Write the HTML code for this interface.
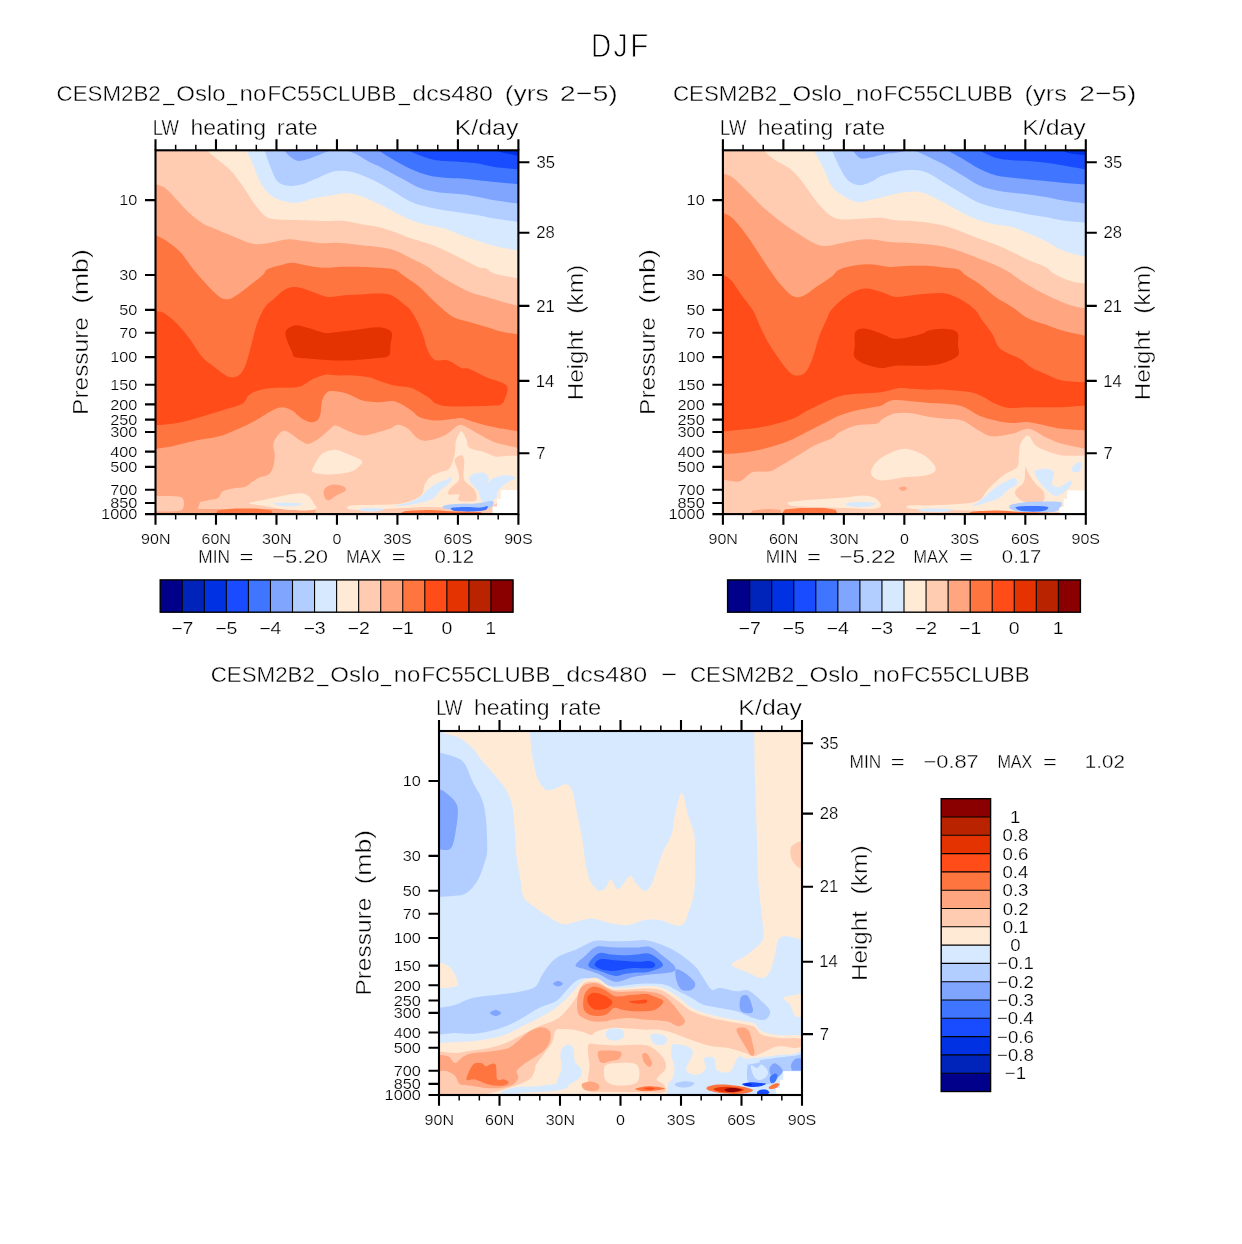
<!DOCTYPE html><html><head><meta charset="utf-8"><style>html,body{margin:0;padding:0;background:#fff;}svg{display:block}body{-webkit-font-smoothing:antialiased}text{font-family:'Liberation Sans', sans-serif;fill:#000}text.b{stroke:#fff;stroke-width:0.4px}text.x{stroke:#fff;stroke-width:0.9px}text.m{stroke:#fff;stroke-width:0.3px}text.s{stroke:#fff;stroke-width:0.22px}</style></head><body>
<svg width="1242" height="1244" viewBox="0 0 1242 1244">
<rect width="1242" height="1244" fill="#fff"/>
<clipPath id="c1"><rect x="155.5" y="150.3" width="362.9" height="363.8"/></clipPath>
<g clip-path="url(#c1)"><g transform="translate(155.5 150.3) scale(0.99972 0.99945)">
<rect x="-5" y="-5" width="373" height="374" fill="#0032E4"/>
<path d="M-6 -6L339 -6L339 0C340.4 0.4 343.7 1.6 347.7 2.5C351.7 3.4 360.4 5 363 5.5L369 5.5L369 370L-6 370L-6 -6Z" fill="#194CFF"/>
<path d="M-6 -6L252.7 -6L252.7 0C254.6 0.8 259.3 3.3 264 5C268.7 6.7 274 8.9 281 10C288 11.1 299.1 11.1 306 11.7C312.9 12.2 317.2 12.5 322.7 13.3C328.2 14.1 332.3 15.8 339 16.7C345.7 17.6 359 18.6 363 19L369 19L369 370L-6 370L-6 -6Z" fill="#4075FF"/>
<path d="M-6 -6L222.7 -6L222.7 0C225.4 1.7 233.4 6.8 239 10C244.6 13.2 250.4 16.5 256 19C261.6 21.5 267.2 23.6 272.7 25C278.2 26.4 283.4 26.9 289 27.5C294.6 28.1 300.4 27.9 306 28.3C311.6 28.7 317.2 29.4 322.7 30C328.2 30.6 332.3 31 339 31.7C345.7 32.4 359 33.6 363 34L369 34L369 370L-6 370L-6 -6Z" fill="#80A5FF"/>
<path d="M-6 -6L190 -6L190 0C191.7 0.6 196 1.6 200 3.5C204 5.5 209.8 9.5 214 11.7C218.2 13.9 222.2 15.2 225 16.6C227.8 18 227.2 17.9 231 20C234.8 22.1 242.2 26.1 247.7 29C253.2 31.9 258.4 35.4 264 37.5C269.6 39.6 274 40.6 281 41.7C288 42.8 299.1 43.2 306 44C312.9 44.8 317.2 45.7 322.7 46.7C328.2 47.7 332.3 48.9 339 50C345.7 51.1 359 52.8 363 53.3L369 53.3L369 370L-6 370L-6 -6Z" fill="#B2CDFF"/>
<path d="M127.4 -1L134 6C135.3 6.7 138.9 9.8 141.6 10.4C144.3 11 146.9 10.2 150 9.5C153.1 8.8 156.7 7.2 160 6C163.3 4.8 168.3 2.7 170 2L178 -1L127.4 -1Z" fill="#80A5FF"/>
<path d="M-6 -6L109 -6L109 0C110 2.8 112.8 11.4 115 16.6C117.2 21.8 119 27.9 122 31C125 34.1 128.7 35 132.7 35.5C136.7 36 141.6 35.4 146 34.3C150.4 33.2 154.1 31.1 159.3 29C164.5 26.9 171.8 22.9 177 21.5C182.2 20.1 185.9 20.2 190.3 20.6C194.7 21 197.8 21.6 203.6 23.7C209.4 25.8 219.1 30.4 225 33.4C230.9 36.4 233.8 38.7 239 41.7C244.2 44.8 250.4 49.2 256 51.7C261.6 54.2 267.2 55.3 272.7 56.7C278.2 58.1 283.4 59 289 60C294.6 61 300.4 61.7 306 62.5C311.6 63.3 317.2 64 322.7 65C328.2 66 332.3 67.2 339 68.3C345.7 69.4 359 71.1 363 71.7L369 71.7L369 370L-6 370L-6 -6Z" fill="#D6E9FF"/>
<path d="M-6 -6L91 -6L91 0C92 2.2 95 8.3 97 13C99 17.7 100.8 23.5 103 28C105.2 32.5 107.2 36.7 110 40C112.8 43.3 116.2 46 120 48C123.8 50 128.8 51.3 133 52C137.2 52.7 140.8 52.7 145 52C149.2 51.3 153.4 49 158 48C162.6 47 167.5 46.6 172.7 45.8C177.9 45 184 43.1 189 43C194 42.9 197.1 43.3 202.7 45C208.3 46.7 216.6 50.5 222.7 53.3C228.8 56.1 233.4 58.9 239 61.7C244.6 64.5 250.4 67.8 256 70C261.6 72.2 267.2 73.6 272.7 75C278.2 76.4 283.4 76.6 289 78.3C294.6 80 300.4 82.9 306 85C311.6 87.1 317.2 89 322.7 90.8C328.2 92.6 333.4 94.4 339 95.8C344.6 97.2 352 98.3 356 99C360 99.7 361.8 99.8 363 100L369 100L369 370L-6 370L-6 -6Z" fill="#FFEAD6"/>
<path d="M-6 -6L50.8 -6L50.8 0C52.8 1.7 59 6.7 63 10C67 13.3 71.7 16.7 75 20C78.3 23.3 80.2 26.2 83 30C85.8 33.8 89.2 38.8 92 43C94.8 47.2 97 51.2 100 55C103 58.8 106.7 63.7 110 66C113.3 68.3 113.3 68.3 120 69C126.7 69.7 141.2 69.7 150 70C158.8 70.3 166.2 70.7 172.7 70.8C179.2 70.9 183.4 70.3 189 70.8C194.6 71.3 200.4 73 206 74C211.6 75 217.2 75.4 222.7 76.7C228.2 78 233.4 79.8 239 81.7C244.6 83.6 250.4 86.4 256 88.3C261.6 90.2 267.2 91.3 272.7 93.3C278.2 95.2 283.4 97.5 289 100C294.6 102.5 300.4 105.5 306 108.3C311.6 111.1 318.5 115 322.7 116.7C326.9 118.4 328.3 117.2 331 118.3C333.7 119.4 333.7 121.6 339 123.3C344.3 125 359 127.5 363 128.3L369 128.3L369 370L-6 370L-6 -6Z" fill="#FFCCB2"/>
<path d="M-6 34L0 34C1.7 34.7 6.4 35.3 10 38C13.6 40.7 17.9 46 21.7 50C25.5 54 28.8 58.2 33 62C37.2 65.8 42.8 70.3 47 73C51.2 75.7 53.3 76 58 78C62.7 80 69.3 82.7 75 85C80.7 87.3 87.3 90.5 92 92C96.7 93.5 98.8 94 103 94C107.2 94 112 92.8 117 92C122 91.2 127.5 89.2 133 89C138.5 88.8 144.3 90.3 150 91C155.7 91.7 161.5 92.8 167 93C172.5 93.2 176.5 92.2 183 92.5C189.5 92.8 199.4 94.3 206 95C212.6 95.7 217.2 95.9 222.7 96.7C228.2 97.5 233.4 98.1 239 100C244.6 101.9 250.4 105.5 256 108.3C261.6 111.1 268.5 114.2 272.7 116.7C276.9 119.2 276.8 120.5 281 123.3C285.2 126.1 292.2 130.2 297.7 133.3C303.2 136.4 308.4 139.5 314 141.7C319.6 143.9 325.4 145 331 146.7C336.6 148.4 342.4 150.2 347.7 151.7C353 153.2 360.4 155.1 363 155.8L369 155.8L369 370L-6 370L-6 34Z" fill="#FFA580"/>
<path d="M-6 85L0 85C1.7 85.8 5.8 87.2 10 90C14.2 92.8 20.5 97.3 25 102C29.5 106.7 32.8 112.8 37 118C41.2 123.2 45.8 128.5 50 133C54.2 137.5 58.7 142.3 62 145C65.3 147.7 67.3 148.7 70 149C72.7 149.3 74.3 149 78 147C81.7 145 87.2 140.7 92 137C96.8 133.3 103.7 128 107 125C110.3 122 109 120.7 112 119C115 117.3 120.8 116.1 125 115C129.2 113.9 132.8 112.5 137 112.5C141.2 112.5 145 114.2 150 115C155 115.8 161.5 117.2 167 117.5C172.5 117.8 176.5 116.8 183 116.7C189.5 116.6 199.4 116.6 206 116.7C212.6 116.8 217.2 117.1 222.7 117.5C228.2 117.9 234.8 118 239 119.2C243.2 120.5 243.5 122.1 247.7 125C251.9 127.9 258.4 132 264 136.7C269.6 141.4 275.4 148.3 281 153.3C286.6 158.3 292.2 163.6 297.7 166.7C303.2 169.8 308.4 170 314 171.7C319.6 173.4 325.4 175 331 176.7C336.6 178.4 342.4 180.4 347.7 181.7C353 182.9 360.4 183.8 363 184.2L369 184.2L369 370L-6 370L-6 85Z" fill="#FF7540"/>
<path d="M-6 298.7L0 298.7C2.8 298.2 11.2 297.1 16.7 296C22.2 294.9 27.4 293.2 33 292C38.5 290.8 44.4 289.8 50 288.7C55.6 287.6 61.2 287 66.7 285.3C72.2 283.6 77.5 281.2 83 278.7C88.5 276.2 94.4 273.4 100 270.3C105.6 267.2 112.2 262.5 116.7 260.3C121.2 258.1 123.4 257 126.7 257C130 257 133.4 258.4 136.7 260.3C140 262.2 143.6 266.8 146.7 268.7C149.8 270.6 152.5 271.7 155 272C157.5 272.3 160 271.7 161.7 270.3C163.4 268.9 164.2 267 165 263.7C165.8 260.4 165.6 253.9 166.7 250.3C167.8 246.7 169.5 243.5 171.7 242C173.9 240.5 176.7 240.9 180 241.2C183.3 241.5 187.2 242.2 191.7 243.7C196.2 245.2 201.8 248.9 207 250.3C212.2 251.7 217.4 251.8 222.7 252C228 252.2 233.4 249.8 239 251.2C244.6 252.6 251.8 257.7 256 260.3C260.2 262.9 260.1 265.3 264.3 267C268.5 268.7 275.4 270 281 270.3C286.6 270.6 293.5 269.1 297.7 268.7C301.9 268.3 303.3 267.5 306 267.8C308.7 268.1 309.8 269.1 314 270.3C318.2 271.6 325.4 273.9 331 275.3C336.6 276.7 342.4 277.7 347.7 278.7C353 279.7 360.4 280.8 363 281.2L369 281.2L369 370L-6 370L-6 298.7Z" fill="#FFA580"/>
<path d="M42 359L44.7 352.6C45.9 352.2 49 351.1 52 350.3C55 349.5 60.1 349.5 62.6 348C65.1 346.5 64.5 343 67 341.4C69.5 339.8 73.8 339.1 77.5 338.4C81.2 337.7 86.2 338.1 89.4 337C92.6 335.9 94.3 333.3 96.8 331.7C99.3 330.1 101.6 328.4 104.3 327.2C107 326 111 326 113.2 324.3C115.4 322.6 116.7 320 117.7 316.8C118.7 313.6 119.2 308.5 119.2 304.9C119.2 301.3 117.6 298 117.7 295.3C117.8 292.6 118.5 291.1 120 288.7C121.5 286.3 124.5 282.3 126.7 281.2C128.9 280.1 129.9 280.5 133 282C136.1 283.5 141.7 288.4 145 290.3C148.3 292.2 150 294 153 293.7C156 293.4 159.7 290.9 163 288.7C166.3 286.5 170.2 282.5 173 280.3C175.8 278.1 176.9 275.3 180 275.3C183.1 275.3 187.2 278.6 191.7 280.3C196.2 282 201.8 285 207 285.3C212.2 285.6 218.1 283.1 222.7 282C227.2 280.9 231 279.9 234.3 278.7C237.6 277.4 239.6 274.5 242.7 274.5C245.8 274.5 249.4 276.3 252.7 278.7C256 281.1 259.4 286.8 262.7 288.7C266 290.6 268.3 290.9 272.7 290.3C277.1 289.7 284 287.8 289 285.3C294 282.8 299.3 276.8 302.7 275.3C306.1 273.8 306 274.8 309.3 276.2C312.6 277.6 317.8 281.1 322.7 283.7C327.6 286.3 332.3 289.6 339 292C345.7 294.4 359 296.8 363 297.8L369 297.8L369 370L160 370L160 359L42 359Z" fill="#FFCCB2"/>
<path d="M-6 346L15 346C16.8 346.2 23.8 346.3 26 347.5C28.2 348.7 28.5 350.9 28.5 353C28.5 355.1 28.2 358.6 26 360C23.8 361.4 16.8 361.2 15 361.5L-6 361.5L-6 346Z" fill="#FFCCB2"/>
<path d="M-6 161L0 161C1.3 161.2 4.7 160.7 8 162.5C11.3 164.3 15.8 167.9 20 172C24.2 176.1 28.5 181.2 33 187C37.5 192.8 43 202.3 47 207C51 211.7 52.9 212 56.7 215C60.5 218 66.5 223 70 225C73.5 227 75.5 227.2 78 227C80.5 226.8 83 225.7 85 223.7C87 221.7 88.6 218.3 90 215C91.4 211.7 92.3 207.9 93.5 203.7C94.7 199.5 95.8 194.8 97 190C98.2 185.2 99.5 179.5 101 175C102.5 170.5 104.3 166.3 106 163C107.7 159.7 109 157.3 111 155C113 152.7 114.8 151.7 118 149C121.2 146.3 126 141 130 139C134 137 137.3 136.5 142 137C146.7 137.5 152.9 140.4 158 142C163.1 143.6 167.5 146.2 172.7 146.7C177.9 147.2 183.4 145.4 189 145C194.6 144.6 200.4 144.5 206 144.2C211.6 143.9 217.7 143.2 222.7 143.3C227.7 143.4 231.8 143.3 236 145C240.2 146.7 244.4 150.6 247.7 153.3C251 156 253.5 157.7 256 161C258.5 164.3 260.7 168.8 262.7 173C264.7 177.2 266.5 181.8 268 186C269.5 190.2 269.7 194.1 271.5 198C273.3 201.9 275.5 207.4 279 209.5C282.5 211.6 288.2 208.9 292.7 210.3C297.2 211.7 302.4 216.4 306 217.8C309.6 219.2 309.8 217.2 314 218.7C318.2 220.2 324.8 224.2 331 227C337.2 229.8 348 231.5 351 235.3C354 239.1 350 246.8 349 250C348 253.2 346.7 253.6 345 254.5C343.3 255.4 344.2 255 339 255.3C333.8 255.6 321.7 256.1 314 256.2C306.3 256.3 298.2 256.6 292.7 256.2C287.2 255.8 284.3 255.2 281 253.7C277.7 252.2 276.9 249.7 272.7 247C268.5 244.3 261.6 239.8 256 237.8C250.4 235.9 244.6 236.6 239 235.3C233.4 234.1 226.9 231.7 222.7 230.3C218.5 228.9 218.2 227.8 214 227C209.8 226.2 202.9 225.6 197.7 225.3C192.5 225 187.6 225.4 183 225.3C178.4 225.2 174.2 223.9 170 224.5C165.8 225.1 161.3 227.2 158 228.7C154.7 230.2 152.7 232.3 150 233.7C147.3 235.1 147.2 236.3 141.7 237C136.1 237.7 123.2 237.2 116.7 237.8C110.2 238.4 107 239.1 103 240.3C99 241.6 95.7 243.1 93 245.3C90.3 247.5 91.1 251.2 86.7 253.7C82.3 256.2 72.8 258.4 66.7 260.3C60.6 262.2 55.6 263.6 50 265.3C44.4 267 38.5 268.9 33 270.3C27.4 271.7 22.2 272.9 16.7 273.7C11.2 274.5 2.8 275 0 275.3L-6 275.3L-6 161Z" fill="#FF4C19"/>
<path d="M130 183C130.2 178.6 134.7 176.5 138 175.5C141.3 174.5 145.2 175.9 150 177C154.8 178.1 162.9 181 166.7 182C170.5 183 169 183 172.7 182.8C176.4 182.6 183.4 181.7 189 181C194.6 180.3 200.4 179.4 206 178.7C211.6 178 218.2 176.9 222.7 177C227.1 177.1 230.4 178.1 232.7 179.2C235 180.3 236.1 180.9 236.5 183.5C236.9 186.1 235.5 191.4 235 195C234.5 198.6 235.6 203.2 233.5 205.3C231.4 207.4 230.1 207 222.7 207.8C215.3 208.6 199.8 210.2 189 210.3C178.2 210.5 166.2 209.2 158 208.7C149.8 208.1 143.6 208.1 140 207C136.4 205.9 138.4 206 136.7 202C135 198 129.8 187.4 130 183Z" fill="#E43200"/>
<path d="M157.5 322C155.1 320.6 157 319.1 158.5 316C160 312.9 163.1 306.4 166.7 303.7C170.3 300.9 175.8 299.5 180 299.5C184.2 299.5 187.4 301.9 191.7 303.7C196 305.5 203.9 308.4 206 310.3C208.1 312.2 206.2 313.4 204.3 315.3C202.4 317.2 199.6 320.5 194.3 322C189 323.5 178.8 324.5 172.7 324.5C166.6 324.5 159.9 323.4 157.5 322Z" fill="#FFEAD6"/>
<path d="M169.3 338.7C170.8 336.9 174.6 334.9 177.7 334.5C180.8 334.1 185.6 335.2 187.7 336.2C189.8 337.2 191.3 338.8 190.2 340.3C189.1 341.8 183.9 343.6 181 345.3C178.1 347 174.8 350.3 172.7 350.3C170.6 350.3 169.1 347.2 168.5 345.3C167.9 343.4 167.8 340.5 169.3 338.7Z" fill="#FFA580"/>
<path d="M369 306L369 345L342 353C340 353.7 337 356.2 330 357C323 357.8 310 357.5 300 357.5C290 357.5 280 356.8 270 357C260 357.2 250.8 358 240 358.5C229.2 359 212.8 359.9 205 360C197.2 360.1 194.8 359.7 193 359C191.2 358.3 191.2 356.3 194 355.6C196.8 354.9 202.2 355.1 209.8 354.9C217.4 354.6 232.2 354.7 239.6 354.1C247 353.5 250 352.8 254.5 351.2C259 349.6 263.9 347.4 266.4 344.5C268.9 341.6 267.9 337 269.4 334C270.9 331 272.8 328.6 275.3 326.6C277.8 324.6 281.3 323.3 284.3 322.1C287.3 320.9 291 321.2 293.2 319.2C295.4 317.2 296.6 313.4 297.7 310.2C298.8 307 299.4 303 299.9 299.8C300.4 296.6 299.6 294 300.6 290.9C301.6 287.8 304.2 281.4 305.9 281.2C307.6 280.9 309.6 286.7 311 289.4C312.4 292.1 311 295.5 314 297.6C317 299.7 324.5 300.5 329 302C333.5 303.5 337.1 305.9 340.9 306.5C344.7 307.1 348.5 305.8 352 305.7C355.5 305.6 360.1 305.7 361.7 305.7L369 306Z" fill="#FFEAD6"/>
<path d="M305.9 305C304.3 304.9 299.8 307.1 299.2 309.5C298.6 311.9 301.3 315.8 302 319.2C302.7 322.6 304.8 326.4 303.6 329.6C302.4 332.8 296.4 336 294.7 338.5C293 341 291.7 343.5 293.2 344.5C294.7 345.5 301.9 343.5 303.6 344.5C305.3 345.5 300.9 349.4 303.6 350.4C306.3 351.4 317.4 352.1 320 350.4C322.6 348.7 320.8 343 319.3 340C317.8 337 312.9 334.8 311 332.6C309.1 330.4 308.5 330.3 308.1 326.6C307.7 322.9 309.2 313.8 308.8 310.2C308.4 306.6 307.5 305.1 305.9 305Z" fill="#FFCCB2"/>
<path d="M314 326.6C315 325 319 323.5 321.5 322.9C324 322.3 327 322 329 322.9C331 323.8 332.9 326.2 333.4 328.1C333.9 330 331.1 334 331.9 334C332.6 334 334.7 329.6 337.9 328.1C341.1 326.6 347.6 325.1 351.3 325.1C355 325.1 360.2 326.9 360.2 328.1C360.2 329.4 354.3 330.4 351.3 332.6C348.3 334.8 344 339 342.3 341.5C340.6 344 342.6 345.5 340.9 347.5C339.2 349.5 334.4 352.9 331.9 353.4C329.4 353.9 327.5 352.4 326 350.4C324.5 348.4 324.8 344.5 323 341.5C321.2 338.5 317 335.1 315.5 332.6C314 330.1 313 328.2 314 326.6Z" fill="#D6E9FF"/>
<path d="M272 340C274.3 338 277 335.7 280 334C283 332.3 287.3 331.2 290 330C292.7 328.8 295.3 326.5 296 327C296.7 327.5 295.8 330.8 294 333C292.2 335.2 287.7 337.5 285 340C282.3 342.5 280.8 346 278 348C275.2 350 272.7 350.8 268 352C263.3 353.2 254.7 354.9 250 355.5C245.3 356.1 239.2 356.1 240 355.5C240.8 354.9 250.7 353.6 255 352C259.3 350.4 263.2 348 266 346C268.8 344 269.7 342 272 340Z" fill="#D6E9FF"/>
<path d="M288 356C289.7 355.2 294.7 354.4 300 354C305.3 353.6 313.8 354 320 353.5C326.2 353 334.3 350.4 337 351C339.7 351.6 338 355.5 336 357C334 358.5 330.2 359.5 325 360C319.8 360.5 310.8 360.2 305 360C299.2 359.8 292.8 359.7 290 359C287.2 358.3 286.3 356.8 288 356Z" fill="#B2CDFF"/>
<path d="M296 358C297.7 357.3 305.2 357.1 310 357C314.8 356.9 321.3 357.7 325 357.5C328.7 357.3 331.2 355.6 332 356C332.8 356.4 332.3 359.1 330 360C327.7 360.9 323 361.3 318 361.5C313 361.7 303.7 361.6 300 361C296.3 360.4 294.3 358.7 296 358Z" fill="#4075FF"/>
<path d="M44 352.5C44.8 351.3 54 350.4 60 350C66 349.6 73.3 350.2 80 350C86.7 349.8 93.3 349.2 100 349C106.7 348.8 113.3 349.2 120 349C126.7 348.8 133.3 347.8 140 348C146.7 348.2 153.3 349.3 160 350C166.7 350.7 175 351.2 180 352C185 352.8 189.2 353.8 190 355C190.8 356.2 190 358.2 185 359C180 359.8 170.8 359.6 160 359.5C149.2 359.4 133.3 358.8 120 358.5C106.7 358.2 90.8 358.2 80 358C69.2 357.8 61 357.9 55 357C49 356.1 43.2 353.7 44 352.5Z" fill="#FFCCB2"/>
<path d="M93.8 353.3C92.7 352.3 100.8 351.5 105 350.5C109.2 349.5 112.9 348.5 119 347.3C125.1 346.1 136 343.7 141.5 343.3C147 342.9 149.3 343.6 152 345.1C154.7 346.7 156.7 350.2 157.9 352.6C159.1 355 163.4 358.1 159.4 359.3C155.4 360.5 141.9 360.5 134 360C126 359.5 118.4 357.4 111.7 356.3C105 355.2 94.9 354.3 93.8 353.3Z" fill="#FFEAD6"/>
<path d="M117.7 353C118.5 352.4 125.2 352.5 130 352.6C134.8 352.7 145 352.9 146.7 353.5C148.4 354.1 143.6 355.6 140 356C136.4 356.4 128.7 356.5 125 356C121.3 355.5 116.9 353.6 117.7 353Z" fill="#D6E9FF"/>
<path d="M60 365L62 360.5C65 360.2 73.7 358.8 80 358.5C86.3 358.2 94 358.2 100 358.5C106 358.8 113.3 360.2 116 360.5L118 365L60 365Z" fill="#FF7540"/>
<path d="M204 359C205.5 358.5 210.8 358 215 358C219.2 358 228.2 358.4 229 359C229.8 359.6 223.8 361.2 220 361.5C216.2 361.8 208.7 361.4 206 361C203.3 360.6 202.5 359.5 204 359Z" fill="#D6E9FF"/>
<path d="M240 365L250 361C254.2 360.8 266.7 359.9 275 360C283.3 360.1 291.7 361.2 300 361.5C308.3 361.8 320.8 361.9 325 362L330 365L240 365Z" fill="#FF7540"/>
<path d="M345.3 340L369 340L369 370L337.1 370L337.1 356.4L341.6 356.4L341.6 349L345.3 349L345.3 340Z" fill="#FFFFFF"/>
</g></g>
<clipPath id="c2"><rect x="722.9" y="150.3" width="362.9" height="363.8"/></clipPath>
<g clip-path="url(#c2)"><g transform="translate(722.9 150.3) scale(0.99972 0.99945)">
<rect x="-5" y="-5" width="373" height="374" fill="#0032E4"/>
<path d="M-6 -6L339.3 -6L339.3 0C340.7 0.5 343.8 2.5 347.7 3.3C351.6 4.1 360.4 4.7 363 5L369 5L369 370L-6 370L-6 -6Z" fill="#194CFF"/>
<path d="M-6 -6L256 -6L256 0C258.8 1.2 267.1 5.8 272.7 7.5C278.2 9.2 283.8 9.4 289.3 10C294.9 10.6 300.4 10.4 306 10.8C311.6 11.2 317.1 11.8 322.7 12.5C328.2 13.2 332.6 13.9 339.3 15C346 16.1 359.1 18.5 363 19.2L369 19.2L369 370L-6 370L-6 -6Z" fill="#4075FF"/>
<path d="M-6 -6L224.3 -6L224.3 0C226.8 1.4 234 5.2 239.3 8.3C244.6 11.4 250.4 15.5 256 18.3C261.6 21.1 267.1 23.5 272.7 25C278.2 26.5 283.8 26.8 289.3 27.5C294.9 28.2 300.4 28.6 306 29.2C311.6 29.8 317.1 30.2 322.7 30.8C328.2 31.4 332.6 31.9 339.3 32.5C346 33.1 359.1 33.9 363 34.2L369 34.2L369 370L-6 370L-6 -6Z" fill="#80A5FF"/>
<path d="M-6 -6L191 -6L191 0C193.5 1.1 200.7 4.2 206 6.7C211.3 9.2 217.1 11.9 222.7 15C228.2 18.1 233.8 21.7 239.3 25C244.9 28.3 250.4 32.5 256 35C261.6 37.5 267.1 38.8 272.7 40C278.2 41.2 283.8 41.8 289.3 42.5C294.9 43.2 300.4 43.5 306 44.2C311.6 44.9 317.1 45.7 322.7 46.7C328.2 47.7 332.6 48.9 339.3 50C346 51.1 359.1 52.8 363 53.3L369 53.3L369 370L-6 370L-6 -6Z" fill="#B2CDFF"/>
<path d="M128.3 -1L133 4C133.9 4.7 135.5 7.9 138.3 8.3C141.1 8.8 145.8 7.5 150 6.7C154.2 5.9 159.5 4.2 163.3 3.5C167.1 2.8 169.8 2.9 172.7 2.5C175.6 2.1 179.6 1.2 181 1L186 -1L128.3 -1Z" fill="#80A5FF"/>
<path d="M-6 -6L109 -6L109 0C110.3 2.8 114 11.7 116.7 16.7C119.4 21.7 121.7 26.9 125 30C128.3 33 132.5 34.9 136.7 35C140.9 35.1 146.4 32.3 150 30.8C153.6 29.3 154.5 27.3 158.3 25.8C162.1 24.3 168.1 22.7 172.7 21.7C177.3 20.7 181 19.7 186 19.7C191 19.7 196.6 19.4 202.7 21.7C208.8 24 216.6 29.7 222.7 33.3C228.8 36.9 233.8 40.1 239.3 43.3C244.9 46.5 250.4 50.1 256 52.5C261.6 54.9 267.1 56.1 272.7 57.5C278.2 58.9 283.8 59.7 289.3 60.8C294.9 61.9 300.4 63.2 306 64.2C311.6 65.2 317.1 65.7 322.7 66.7C328.2 67.7 332.6 69 339.3 70C346 71 359.1 72.1 363 72.5L369 72.5L369 370L-6 370L-6 -6Z" fill="#D6E9FF"/>
<path d="M-6 -6L90.8 -6L90.8 0C92.3 2.8 97.1 10.9 100 16.7C102.9 22.5 105.5 30.6 108.3 35C111.1 39.4 112.5 40.5 116.7 43.3C120.9 46.1 127.8 50.7 133.3 51.7C138.9 52.7 144.4 50.3 150 49.2C155.6 48.1 161.1 46.2 166.7 45C172.2 43.8 177.8 42.1 183.3 41.7C188.9 41.3 193.4 40.6 200 42.5C206.6 44.4 216.1 50 222.7 53.3C229.2 56.6 233.8 59.7 239.3 62.5C244.9 65.3 250.4 68 256 70C261.6 72 267.1 73.1 272.7 74.2C278.2 75.3 283.8 75.2 289.3 76.7C294.9 78.2 300.4 81 306 83.3C311.6 85.6 317.1 88 322.7 90.8C328.2 93.6 333.8 97.6 339.3 100C344.9 102.4 352.1 104 356 105C359.9 106 361.8 105.7 363 105.8L369 105.8L369 370L-6 370L-6 -6Z" fill="#FFEAD6"/>
<path d="M-6 -6L40.8 -6L40.8 0C42.3 1.4 45.7 5.2 50 8.3C54.3 11.4 62.2 15 66.7 18.3C71.2 21.6 73.4 24.4 76.7 28.3C80 32.2 83.4 37.2 86.7 41.7C90 46.2 93.1 51 96.7 55C100.3 59 104.4 63.4 108.3 65.8C112.2 68.2 114.4 68.8 120 69.2C125.6 69.6 135.3 68.6 141.7 68.3C148.1 68 153.1 67.2 158.3 67.5C163.5 67.8 167.5 69.5 172.7 70C177.9 70.5 183.8 70.4 189.3 70.8C194.9 71.2 200.4 71.7 206 72.5C211.6 73.3 217.1 74.3 222.7 75.8C228.2 77.3 233.8 79.6 239.3 81.7C244.9 83.8 250.4 86.2 256 88.3C261.6 90.4 267.1 92 272.7 94.2C278.2 96.4 283.8 99.1 289.3 101.7C294.9 104.3 300.4 107.5 306 110C311.6 112.5 318.5 114.5 322.7 116.7C326.9 118.9 326.8 120.9 331 123.3C335.2 125.7 342.4 129.1 347.7 130.8C353 132.5 360.4 132.9 363 133.3L369 133.3L369 370L-6 370L-6 -6Z" fill="#FFCCB2"/>
<path d="M-6 23.3L0 23.3C1.7 24 5.8 24.4 10 27.5C14.2 30.6 19.7 36.6 25 41.7C30.3 46.8 36.2 53.3 41.7 58.3C47.2 63.3 52.8 67.5 58.3 71.7C63.8 75.9 69.4 79.7 75 83.3C80.6 86.9 87 91.2 91.7 93.3C96.4 95.4 99.1 95.8 103.3 95.8C107.5 95.8 111.7 94.3 116.7 93.3C121.7 92.3 127.8 90.7 133.3 90C138.9 89.3 144.4 88.9 150 89.2C155.6 89.5 161.1 91.2 166.7 91.7C172.2 92.2 176.8 92.1 183.3 92.5C189.9 92.9 199.4 93.5 206 94.2C212.6 94.9 217.1 95.5 222.7 96.7C228.2 98 233.8 99.8 239.3 101.7C244.9 103.6 250.4 106.1 256 108.3C261.6 110.5 267.7 112.8 272.7 115C277.7 117.2 281.8 119.2 286 121.7C290.2 124.2 293 127 297.7 130C302.4 133.1 308.8 136.9 314.3 140C319.9 143.1 325.4 145.8 331 148.3C336.6 150.8 342.4 153.3 347.7 155C353 156.7 360.4 157.8 363 158.3L369 158.3L369 370L-6 370L-6 23.3Z" fill="#FFA580"/>
<path d="M-6 62.5L0 62.5C1.7 63.5 5.8 64.3 10 68.3C14.2 72.3 20.3 80.3 25 86.7C29.7 93.1 34.4 100.9 38.3 106.7C42.2 112.5 45 117 48.3 121.7C51.6 126.4 54.7 131 58.3 135C61.9 139 66.4 144 70 145.8C73.6 147.6 76.1 147.3 80 145.8C83.9 144.3 88.6 139.9 93.3 136.7C98 133.5 104.4 129.6 108.3 126.7C112.2 123.8 112.5 121.2 116.7 119.2C120.9 117.2 127.8 115.8 133.3 115C138.9 114.2 144.4 113.9 150 114.2C155.6 114.5 161.1 116.4 166.7 116.7C172.2 117 176.8 116 183.3 115.8C189.9 115.6 199.4 115.5 206 115.8C212.6 116.1 217.7 116.9 222.7 117.5C227.7 118.1 232.7 118 236 119.2C239.3 120.5 239.4 122.7 242.7 125C246 127.3 251 129.7 256 133.3C261 136.9 267.1 142.8 272.7 146.7C278.2 150.6 283.8 153.1 289.3 156.7C294.9 160.3 300.4 165.6 306 168.5C311.6 171.4 317.1 172.4 322.7 174.3C328.2 176.2 332.6 178.3 339.3 180.2C346 182.1 359.1 184.6 363 185.5L369 185.5L369 370L-6 370L-6 62.5Z" fill="#FF7540"/>
<path d="M-6 303.7L0 303.7C2.8 303.6 11.1 303.4 16.7 302.8C22.2 302.2 27.7 301.4 33.3 300.3C38.8 299.2 44.4 297.9 50 296.2C55.6 294.5 61.2 292.7 66.7 290.3C72.2 287.9 77.8 284.8 83.3 282C88.8 279.2 94.4 276.5 100 273.7C105.6 270.9 111.2 267.5 116.7 265.3C122.2 263.1 127.8 261.7 133.3 260.3C138.9 258.9 145.9 257.8 150 257C154.1 256.2 155.2 256.5 158 255.5C160.8 254.5 163.9 251.8 166.7 250.8C169.5 249.9 171.2 249.7 175 249.8C178.8 249.9 184.1 250.7 189.3 251.2C194.5 251.7 200.4 252.4 206 252.8C211.6 253.2 217.1 253.1 222.7 253.7C228.2 254.3 233.8 254.3 239.3 256.2C244.9 258.1 250.4 262.9 256 265.3C261.6 267.7 267.1 269.1 272.7 270.3C278.2 271.6 283.8 272.5 289.3 272.8C294.9 273.1 300.4 271.6 306 272C311.6 272.4 317.1 274.2 322.7 275.3C328.2 276.4 332.6 277.9 339.3 278.7C346 279.5 359.1 280 363 280.3L369 280.3L369 370L-6 370L-6 303.7Z" fill="#FFA580"/>
<path d="M-6 329.5L0 329.5C2.8 329.8 11.7 332.4 16.7 331.2C21.7 329.9 25 323.7 30 322C35 320.3 42 322.3 46.7 321.2C51.4 320.1 53.6 317.9 58.3 315.3C63 312.7 69.4 308.6 75 305.3C80.6 302 86.2 298.1 91.7 295.3C97.2 292.5 104.1 290.9 108.3 288.7C112.5 286.5 112.5 284.2 116.7 282C120.9 279.8 127.2 276.7 133.3 275.3C139.4 273.9 148.9 274.8 153.3 273.7C157.8 272.6 156.8 270.4 160 268.7C163.2 266.9 167.8 264.1 172.7 263.2C177.6 262.2 183.8 262.4 189.3 263C194.9 263.6 200.4 265.6 206 266.5C211.6 267.4 217.1 268.1 222.7 268.7C228.2 269.3 233.8 268.4 239.3 270.3C244.9 272.2 251 277.7 256 280.3C261 282.9 263.8 285.6 269.3 286.2C274.9 286.8 283.2 284.9 289.3 283.7C295.4 282.4 300.4 278.1 306 278.7C311.6 279.2 317.1 284.5 322.7 287C328.2 289.5 332.6 291.8 339.3 293.7C346 295.6 359.1 297.9 363 298.7L369 298.7L369 370L-6 370L-6 329.5Z" fill="#FFCCB2"/>
<path d="M-6 124.2L0 124.2C1.4 125.2 5 126.2 8.3 130C11.6 133.8 16.4 141.7 20 146.7C23.6 151.7 27.2 155.3 30 160C32.8 164.7 34.2 169.7 36.7 175C39.2 180.3 42 186.4 45 191.7C48 197 51.4 201.9 55 207C58.6 212.1 63.4 218.9 66.7 222C70 225.1 72.2 225.4 75 225.3C77.8 225.2 80.8 224.2 83.3 221.2C85.8 218.1 87.8 213 90 207C92.2 201 94.5 191.1 96.7 185C98.9 178.9 101.2 174.6 103.3 170.3C105.3 166 105.4 163.2 109 159C112.6 154.8 119.5 148.4 125 145C130.4 141.6 136.1 138.9 141.7 138.3C147.2 137.8 153.1 140.3 158.3 141.7C163.5 143.1 167.5 146.1 172.7 146.7C177.9 147.2 183.8 145.6 189.3 145C194.9 144.4 200.4 143.6 206 143.3C211.6 143 217.1 142.2 222.7 143.3C228.2 144.4 234.3 147.2 239.3 150C244.3 152.8 249.4 156.7 252.7 160C256 163.3 256.5 166.1 259.3 170C262.1 173.9 266.5 179 269.3 183.5C272.1 188 273.2 193.7 276 197C278.8 200.3 282.4 201.6 286 203.5C289.6 205.4 293.8 206.3 297.7 208.7C301.6 211.1 305.1 215.3 309.3 217.8C313.5 220.3 317.7 221.6 322.7 223.7C327.7 225.8 332.6 228.9 339.3 230.3C346 231.7 359.1 231.7 363 232L369 232L369 255.3L363 255.3C359.1 255.6 348.8 256.7 339.3 257C329.8 257.3 314.9 256.9 306 257C297.1 257.1 291.6 258.4 286 257.8C280.4 257.2 276.9 255.5 272.7 253.7C268.5 251.9 265.2 248.9 261 247C256.8 245.1 254.1 243.2 247.7 242C241.3 240.8 229.6 239.9 222.7 239.5C215.8 239.1 211.6 239.6 206 239.5C200.4 239.4 194.5 238.9 189.3 238.7C184.1 238.4 180.2 237.4 175 238C169.8 238.6 165.2 241.1 158.3 242C151.4 242.9 140.2 243 133.3 243.7C126.4 244.4 122.2 244.7 116.7 246.2C111.2 247.7 105.6 250.3 100 252.8C94.4 255.3 88.3 258.6 83.3 261.2C78.3 263.8 75.5 266.5 70 268.7C64.5 270.9 56.1 273 50 274.5C43.9 276 38.8 277 33.3 277.8C27.7 278.6 22.2 278.9 16.7 279.5C11.1 280.1 2.8 280.9 0 281.2L-6 281.2L-6 124.2Z" fill="#FF4C19"/>
<path d="M132.5 181.7C134.1 178.9 137.4 178 141.7 178.3C146 178.6 153.6 181.6 158.3 183.3C163 185 165.8 187.6 170 188.3C174.2 189 178.3 188.3 183.3 187.5C188.3 186.7 196.2 184.5 200 183.3C203.8 182.1 202.2 181.1 206 180.3C209.8 179.5 218 178.4 222.7 178.7C227.4 179 232.2 179.3 234.3 182C236.4 184.7 235 191.1 235.2 195C235.3 198.9 237.3 202.5 235.2 205.3C233.1 208.1 227.6 210.3 222.7 212C217.8 213.7 213.9 214.8 206 215.3C198.1 215.9 182.9 214.9 175 215.3C167.1 215.7 163.9 218.1 158.3 217.8C152.8 217.5 146.1 215.5 141.7 213.7C137.3 211.9 133.3 210.1 131.7 207C130.1 203.9 131.9 199.2 132 195C132.1 190.8 130.9 184.5 132.5 181.7Z" fill="#E43200"/>
<path d="M148.3 323.7C147.5 320.6 150.4 315.3 153.3 312C156.2 308.7 161.3 305.9 166 303.7C170.7 301.5 176.1 298.7 181.5 298.7C186.9 298.7 193.9 301.5 198.5 303.7C203.1 305.9 206.9 309.2 209.3 312C211.7 314.8 213.8 318.1 212.7 320.3C211.6 322.5 207.6 324.2 202.7 325.3C197.8 326.4 190.4 326.2 183 327C175.6 327.8 164.1 330.9 158.3 330.3C152.5 329.8 149.1 326.8 148.3 323.7Z" fill="#FFEAD6"/>
<path d="M176 338C176.2 337.2 179.7 336.4 181 336.5C182.3 336.6 184.2 337.8 184 338.5C183.8 339.2 181.3 341.1 180 341C178.7 340.9 175.8 338.8 176 338Z" fill="#FFA580"/>
<path d="M369 305.3L369 362L300 362C290 361.8 258.3 361 240 360.5C221.7 360 199 359.8 190 359C181 358.2 183.3 356.1 186 355.5C188.7 354.9 197.1 355.6 206 355.3C214.9 355 231 354.5 239.3 353.7C247.6 352.9 251.8 352.5 256 350.3C260.2 348.1 261.5 343.4 264.3 340.3C267.1 337.2 269.6 334.8 272.7 332C275.8 329.2 279.1 326.2 282.7 323.7C286.3 321.2 292.1 319.8 294.3 317C296.5 314.2 295.4 310.9 296 307C296.6 303.1 296.2 297.3 297.7 293.7C299.2 290.1 302.7 285 305.2 285.3C307.7 285.6 309.8 292.8 312.7 295.3C315.6 297.8 318.3 298.6 322.7 300.3C327.1 302 332.6 304.5 339.3 305.3C346 306.1 359.1 305.3 363 305.3L369 305.3Z" fill="#FFEAD6"/>
<path d="M302.7 317C303.5 315.6 304.3 320.9 306 323.7C307.7 326.5 310.2 330.6 312.7 333.7C315.2 336.8 319.9 338.9 321 342C322.1 345.1 322.4 350.3 319.3 352C316.2 353.7 306.9 352.8 302.7 352C298.5 351.2 296 348.9 294.3 347C292.6 345.1 291.6 342.8 292.7 340.3C293.8 337.8 299.3 335.9 301 332C302.7 328.1 301.9 318.4 302.7 317Z" fill="#FFCCB2"/>
<path d="M312.7 320.3C314.4 319.2 319.6 318.4 322.7 318.7C325.8 319 329.9 319.5 331 322C332.1 324.5 328.5 331.2 329.3 333.7C330.1 336.2 332.9 337.6 336 337C339.1 336.4 345.8 330.6 347.7 330.3C349.6 330 349.1 333.1 347.7 335.3C346.3 337.5 342.1 342 339.3 343.7C336.5 345.4 334.1 346.4 331 345.3C327.9 344.2 324.1 340.3 321 337C317.9 333.7 314.1 328.1 312.7 325.3C311.3 322.5 311 321.4 312.7 320.3Z" fill="#D6E9FF"/>
<path d="M349 318C349.7 316.3 353.3 312.7 355 312C356.7 311.3 358.7 312.5 359 314C359.3 315.5 358.3 319.7 357 321C355.7 322.3 352.3 322.5 351 322C349.7 321.5 348.3 319.7 349 318Z" fill="#D6E9FF"/>
<path d="M272 338C276 335 278.7 333.7 282 332C285.3 330.3 290 327.7 292 328C294 328.3 295.2 332 294 334C292.8 336 288 337.7 285 340C282 342.3 279.8 345.8 276 348C272.2 350.2 266.3 351.7 262 353C257.7 354.3 250.7 356.5 250 356C249.3 355.5 254.3 353 258 350C261.7 347 268 341 272 338Z" fill="#D6E9FF"/>
<path d="M287.7 355C289.7 353.9 294.6 353.1 300 352.5C305.4 351.9 313.7 351.6 320 351.5C326.3 351.4 334.9 350.9 337.7 352C340.5 353.1 338.3 356.3 337 358C335.7 359.7 336.2 361.3 330 362C323.8 362.7 307 362.5 300 362C293 361.5 290.1 360.2 288 359C285.9 357.8 285.7 356.1 287.7 355Z" fill="#B2CDFF"/>
<path d="M293 357C294.7 356.2 304.7 356 310 356C315.3 356 323.3 356.2 325 357C326.7 357.8 324.2 360.3 320 361C315.8 361.7 304.5 361.7 300 361C295.5 360.3 291.3 357.8 293 357Z" fill="#4075FF"/>
<path d="M65 352.5C66.7 351.6 74.2 351.1 80 350.5C85.8 349.9 93 349.5 100 349C107 348.5 115.3 348.1 122 347.5C128.7 346.9 135 345.4 140 345.5C145 345.6 149 346.4 152 348C155 349.6 158.3 353.2 158 355C157.7 356.8 156.3 358.5 150 359C143.7 359.5 130 358.3 120 358C110 357.7 98.3 357.3 90 357C81.7 356.7 74.2 356.8 70 356C65.8 355.2 63.3 353.4 65 352.5Z" fill="#FFEAD6"/>
<path d="M122.5 353.5C123.7 352.8 130 352.1 135 352C140 351.9 150.8 352.2 152.5 353C154.2 353.8 149.1 355.9 145 356.5C140.9 357.1 131.8 357 128 356.5C124.2 356 121.3 354.2 122.5 353.5Z" fill="#D6E9FF"/>
<path d="M58 365L62 359.5C65 359.2 73.7 358.2 80 358C86.3 357.8 94.5 357.7 100 358C105.5 358.3 110.8 359.7 113 360L115 365L58 365Z" fill="#FF7540"/>
<path d="M25 365L30 360.5C32.5 360.2 40.3 359.1 45 359C49.7 358.9 55.8 359.8 58 360L58 365L25 365Z" fill="#FFA580"/>
<path d="M196 359.5C197.7 359 204.3 358.5 210 358.5C215.7 358.5 228.3 358.9 230 359.5C231.7 360.1 225 361.7 220 362C215 362.3 204 361.9 200 361.5C196 361.1 194.3 360 196 359.5Z" fill="#D6E9FF"/>
<path d="M240 365L250 361.5C254.2 361.3 266.7 360.4 275 360.5C283.3 360.6 291.7 361.7 300 362C308.3 362.3 320.8 362.4 325 362.5L330 365L240 365Z" fill="#FF7540"/>
<path d="M344.3 340.3L369 340.3L369 370L336.8 370L336.8 357L341 357L341 348.7L344.3 348.7L344.3 340.3Z" fill="#FFFFFF"/>
</g></g>
<clipPath id="c3"><rect x="439" y="731" width="363" height="364"/></clipPath>
<g clip-path="url(#c3)"><g transform="translate(439 731) scale(1.00000 1.00000)">
<rect x="-5" y="-5" width="373" height="374" fill="#D6E9FF"/>
<path d="M1 -1L90.8 -1L90.8 0C91.2 4.2 92 17.2 93.3 25C94.5 32.8 96.5 41.5 98.3 46.7C100.1 51.9 102.3 53.9 104 56C105.7 58.1 106.2 59 108.3 59.2C110.4 59.5 113.6 58.5 116.7 57.5C119.8 56.5 123.9 52.9 126.7 53.3C129.5 53.7 131.4 55 133.3 60C135.2 65 136.6 75.2 138.3 83.3C140 91.3 141.9 100 143.3 108.3C144.7 116.6 145.6 126.9 146.7 133.3C147.8 139.8 148.9 143.7 150 147C151.1 150.3 151.6 151.1 153.3 153.3C155 155.5 157.8 159.4 160 160C162.2 160.6 164.7 158.6 166.7 156.7C168.7 154.8 169.7 148 171.8 148.3C173.9 148.6 176.1 158.9 179.3 158.3C182.5 157.8 187.9 145.8 191 145C194.1 144.2 195.2 150.8 197.7 153.3C200.2 155.8 203.5 160 206 160C208.5 160 210.8 156.9 212.7 153.3C214.6 149.7 215.8 143.9 217.7 138.3C219.6 132.8 221.8 125.8 224.3 120C226.8 114.2 230.8 109.4 232.7 103.3C234.6 97.2 234.6 89.8 236 83.3C237.4 76.8 239.6 67.4 241 64.2C242.4 61 242.9 60.7 244.3 64.2C245.7 67.7 247.5 78.5 249.3 85C251.1 91.5 254.1 96.6 255.2 103.3C256.3 110 255.9 117.2 256 125C256.1 132.8 256.3 143.3 256 150C255.7 156.7 255.4 160 254.3 165.3C253.2 170.6 251 177.3 249.3 182C247.6 186.7 246.5 191.3 244.3 193.3C242.1 195.3 239.6 194.8 236 194.2C232.4 193.6 227.7 190.4 222.7 189.5C217.7 188.6 211.6 188.2 206 189C200.4 189.8 194.9 193.4 189.3 194C183.8 194.6 177.9 193.4 172.7 192.5C167.5 191.6 162.1 189.3 158.3 188.5C154.5 187.7 154.2 187.3 150 187.8C145.8 188.3 137.8 190.8 133.3 191.7C128.9 192.6 127.5 194.1 123.3 193C119.1 191.9 112.7 187.7 108.3 185C103.9 182.3 100.6 179.8 96.7 176.7C92.8 173.6 87.5 171.1 85 166.7C82.5 162.2 83 156.9 81.7 150C80.5 143.1 78.5 133.3 77.5 125C76.5 116.7 76.5 108.3 75.8 100C75.1 91.7 74.8 82 73.3 75C71.8 68 69.8 63.6 66.7 58.3C63.7 53 58.9 48 55 43.3C51.1 38.6 46.9 34.4 43.3 30C39.7 25.6 37.2 20.6 33.3 16.7C29.4 12.8 24.7 9.1 20 6.7C15.3 4.3 7.5 3.2 5 2.5L1 -1Z" fill="#FFEAD6"/>
<path d="M-6 21.7L0 21.7C2.2 22.2 9.1 23.3 13.3 25C17.5 26.7 21.7 27.5 25 31.7C28.3 35.9 30 42.8 33.3 50C36.6 57.2 42.5 63.9 45 75C47.5 86.1 48.3 107 48.3 116.7C48.3 126.4 46.7 127.8 45 133.3C43.3 138.9 41.3 145.1 38.3 150C35.2 154.9 30.9 160 26.7 162.5C22.5 165 17.8 164.4 13.3 165C8.9 165.6 2.2 165.7 0 165.8L-6 165.8L-6 21.7Z" fill="#B2CDFF"/>
<path d="M-6 58.3L0 58.3C1.1 58.9 3.6 58.9 6.7 61.7C9.8 64.5 16.6 68.6 18.3 75C20 81.4 17.8 92.9 16.7 100C15.6 107.1 14.5 114.5 11.7 117.5C8.9 120.5 1.9 118.2 0 118.3L-6 118.3L-6 58.3Z" fill="#80A5FF"/>
<path d="M315.2 -6L369 -6L369 208.7L361 208.7C358.8 208.1 351.3 205.3 347.7 205.3C344.1 205.3 341.2 205.6 339.3 208.7C337.4 211.8 337.4 218.4 336 223.7C334.6 229 333.2 236.4 331 240.3C328.8 244.2 326.9 247 322.7 247C318.5 247 311 242.5 306 240.3C301 238.1 292.7 236.2 292.7 233.7C292.7 231.2 302.1 228.1 306 225.3C309.9 222.5 312.9 220.1 316 217C319.1 213.9 323.2 212.6 324.3 207C325.4 201.4 323.5 192.8 322.7 183.3C321.9 173.8 320.1 163.9 319.3 150C318.5 136.1 318.2 116.7 317.7 100C317.1 83.3 316.4 66.7 316 50C315.6 33.3 315.3 8.3 315.2 0L315.2 -6Z" fill="#FFEAD6"/>
<path d="M369 110.8L359.3 110.8C358.1 111.8 352.9 113.8 351.8 116.7C350.7 119.6 351.4 125 352.7 128.3C353.9 131.6 358.2 135.3 359.3 136.7L369 136.7L369 110.8Z" fill="#FFCCB2"/>
<path d="M-6 231.2L0 231.2C1.7 231.9 7.2 233 10 235.3C12.8 237.7 15.3 242.1 16.7 245.3C18.1 248.5 20 252.6 18.3 254.5C16.6 256.4 8.6 256.6 6.7 257L-6 257L-6 231.2Z" fill="#FFEAD6"/>
<path d="M369 262L356 263.7C354.1 264.2 345.1 265.3 344.3 267C343.5 268.7 349.1 270.6 351 273.7C352.9 276.8 355.2 283.4 356 285.3L369 287L369 262Z" fill="#FFEAD6"/>
<path d="M-6 277L0 277C2.8 276.4 11.1 275.4 16.7 273.7C22.2 272 26.4 268.7 33.3 267C40.2 265.3 50 264.8 58.3 263.7C66.6 262.6 76.9 261.7 83.3 260.3C89.7 258.9 93.4 258.1 96.7 255.3C100 252.5 100.5 247.9 103.3 243.7C106.1 239.5 110 233.6 113.3 230.3C116.6 227 119.4 225.6 123.3 223.7C127.2 221.8 132.2 220.6 136.7 218.7C141.1 216.8 146.4 213.5 150 212C153.6 210.5 154.1 209.8 158.3 209.5C162.5 209.2 169.4 210.2 175 210.3C180.6 210.4 186.4 210.2 191.7 210C197 209.8 201.8 208.6 207 209.2C212.2 209.8 217.3 211.6 222.7 213.7C228.1 215.8 233.8 218.4 239.3 222C244.9 225.6 251.8 231.1 256 235.3C260.2 239.5 261.5 243.1 264.3 247C267.1 250.9 269.9 257 272.7 258.7C275.5 260.4 276.8 256.7 281 257C285.2 257.3 293 259.9 297.7 260.3C302.4 260.7 305.1 257.8 309.3 259.5C313.5 261.2 319.1 266.8 322.7 270.3C326.3 273.8 330.4 277.2 331 280.3C331.6 283.4 328.8 287.6 326 288.7C323.2 289.8 319 288.4 314.3 287C309.6 285.6 303.2 282 297.7 280.3C292.1 278.6 286.6 278.1 281 277C275.4 275.9 269 275.4 264.3 273.7C259.6 272 256.9 269.2 252.7 267C248.5 264.8 243.8 262.5 239.3 260.3C234.9 258.1 231.6 255 226 253.7C220.4 252.4 212.1 252.4 206 252.5C199.9 252.6 194.9 253.5 189.3 254C183.8 254.5 177.9 256 172.7 255.3C167.5 254.6 162.6 251.4 158.3 250C154 248.6 150.3 246.9 146.7 247C143.1 247.1 140 248.1 136.7 250.3C133.4 252.5 130 257 126.7 260.3C123.4 263.6 121.2 267.5 116.7 270.3C112.2 273.1 105.6 274.2 100 277C94.4 279.8 88.8 283.9 83.3 287C77.8 290.1 72.2 293.1 66.7 295.3C61.2 297.5 55.6 299.1 50 300.3C44.4 301.6 38.8 302.5 33.3 302.8C27.7 303.1 22.2 301.9 16.7 302C11.1 302.1 2.8 303.4 0 303.7L-6 303.7L-6 277Z" fill="#B2CDFF"/>
<path d="M136.5 234.6C136.4 232.3 142.6 228.1 146 225C149.4 221.9 152.7 217.3 157 215.9C161.3 214.5 167.3 216.2 172 216.3C176.7 216.4 181.1 216.5 185.4 216.5C189.7 216.5 193.7 216.6 198 216.5C202.3 216.4 206.9 214.5 211.2 215.9C215.5 217.3 219.9 221.8 224 225C228.1 228.2 234.2 232.5 235.7 235.2C237.2 237.9 237.2 239.6 233.1 241C229 242.4 217.8 242.7 211.2 243.6C204.5 244.5 199 245 193.2 246.2C187.4 247.4 182 251.2 176.4 250.7C170.8 250.2 164.5 245 159.6 243C154.7 241 150.7 239.9 146.8 238.5C143 237.1 136.6 236.8 136.5 234.6Z" fill="#80A5FF"/>
<path d="M236.8 238.7C238.2 237.3 242.8 239.8 246 242C249.2 244.2 254.9 249.2 256 252C257.1 254.8 254.9 257.6 252.7 258.7C250.5 259.8 245.2 260.1 242.7 258.7C240.2 257.3 238.7 253.6 237.7 250.3C236.7 247 235.4 240.1 236.8 238.7Z" fill="#80A5FF"/>
<path d="M302 266C303.3 263.9 307 263 309 265.3C311 267.6 314.3 277.2 314 280C313.7 282.8 309.2 282.3 307 282C304.8 281.7 301.8 280.7 301 278C300.2 275.3 300.7 268.1 302 266Z" fill="#80A5FF"/>
<path d="M114 252.8C114 251.9 117.3 250 119 250C120.7 250 124 251.9 124 252.8C124 253.7 120.7 255.5 119 255.5C117.3 255.5 114 253.7 114 252.8Z" fill="#80A5FF"/>
<path d="M51 282C51 281 54.9 279 56.7 279C58.5 279 62 281 62 282C62 283 58.5 285 56.7 285C54.9 285 51 283 51 282Z" fill="#80A5FF"/>
<path d="M149.3 234.6C148.9 231.6 155.8 224.2 159.6 222.3C163.4 220.5 167.7 223.2 172 223.5C176.3 223.8 181.1 224.3 185.4 224.3C189.7 224.3 193.7 223.7 198 223.5C202.3 223.3 206.8 221.2 211.2 223C215.5 224.8 224.1 231.1 224.1 234C224.1 236.9 215.5 239.2 211.2 240.4C206.8 241.7 202.3 241.1 198 241.5C193.7 241.9 189 242.4 185.4 243C181.8 243.6 180.3 245.3 176.4 244.9C172.5 244.5 166.7 242.1 162.2 240.4C157.7 238.7 149.7 237.6 149.3 234.6Z" fill="#4075FF"/>
<path d="M155.8 234C155.4 232.2 158.3 228.9 162.2 228.1C166.1 227.3 173 229 179 229.4C185 229.8 192.9 230.6 198.3 230.7C203.7 230.8 208.2 229.5 211.2 230.1C214.2 230.7 216.3 232.8 216.3 234C216.3 235.2 215.3 236.7 211.2 237.2C207.1 237.7 197.7 236.8 191.9 237.2C186.1 237.6 180.9 239.4 176.4 239.7C171.9 240 168.2 240 164.8 239.1C161.4 238.2 156.2 235.8 155.8 234Z" fill="#194CFF"/>
<path d="M-6 312L0 312C2.8 311.9 11.1 311.5 16.7 311.2C22.2 310.9 27.7 310.9 33.3 310.3C38.8 309.7 44.4 308.9 50 307.8C55.6 306.7 61.2 305.8 66.7 303.7C72.2 301.6 77.8 298.1 83.3 295.3C88.8 292.5 94.4 290.1 100 287C105.6 283.9 111.7 280.6 116.7 277C121.7 273.4 126.4 268.9 130 265.3C133.6 261.7 135.8 257.9 138.3 255.3C140.8 252.7 142.6 250.9 145 249.5C147.4 248.1 150.5 247.2 153 247C155.5 246.8 156.7 246.4 160 248C163.3 249.6 167.8 255 172.7 256.5C177.6 258 183.8 257.1 189.3 256.8C194.9 256.6 200.4 255.1 206 255C211.6 254.9 217.1 254.7 222.7 256.5C228.2 258.3 234.3 262.6 239.3 266C244.3 269.4 247.1 274 252.7 277C258.3 280 265.2 282 272.7 284C280.2 286 290.8 287.7 297.7 289C304.6 290.3 310.1 290.2 314.3 292C318.5 293.8 318.5 298 322.7 300C326.9 302 333.8 303.3 339.3 304C344.9 304.7 352.1 303.9 356 304C359.9 304.1 361.8 304.4 363 304.5L369 304.5L369 370L-6 370L-6 312Z" fill="#FFEAD6"/>
<path d="M-6 320.3L0 320.3C2.8 320.6 11.1 322.1 16.7 322C22.2 321.9 27.7 320.3 33.3 319.5C38.8 318.7 44.4 318.2 50 317C55.6 315.8 61.2 314.2 66.7 312C72.2 309.8 77.8 306.5 83.3 303.7C88.8 300.9 94.4 297.8 100 295.3C105.6 292.8 112.2 291.2 116.7 288.7C121.2 286.2 123.4 283.9 126.7 280.3C130 276.7 134.2 270.9 136.7 267C139.2 263.1 140.1 259.6 141.7 257C143.2 254.4 144.1 252.6 146 251.5C147.9 250.4 151 250.5 153.3 250.5C155.6 250.5 156.8 250.2 160 251.5C163.2 252.8 167.8 257.3 172.7 258.5C177.6 259.7 183.8 258.7 189.3 258.5C194.9 258.3 200.4 257.3 206 257.5C211.6 257.7 217.1 257.4 222.7 259.5C228.2 261.6 234.3 266.8 239.3 270.3C244.3 273.8 247.1 277.5 252.7 280.3C258.3 283.1 265.2 285.1 272.7 287C280.2 288.9 290.8 290.6 297.7 292C304.6 293.4 310.1 293.4 314.3 295.3C318.5 297.2 318.5 301.8 322.7 303.7C326.9 305.6 333.8 306.4 339.3 307C344.9 307.6 352.1 306.9 356 307C359.9 307.1 361.8 307.7 363 307.8L369 308L369 315.3L363 315.3C361.8 315.6 359.9 317 356 317C352.1 317 344.9 314.5 339.3 315.3C333.8 316.1 326.9 320.3 322.7 322C318.5 323.7 317.1 325.3 314.3 325.3C311.5 325.3 310.2 323.4 306 322C301.8 320.6 294.9 318.1 289.3 317C283.8 315.9 278.2 316.4 272.7 315.3C267.1 314.2 261.6 312.2 256 310.3C250.4 308.4 244.9 305.9 239.3 304C233.8 302.1 228.2 299.9 222.7 299C217.1 298.1 211.6 298.9 206 298.7C200.4 298.4 194.9 297.8 189.3 297.5C183.8 297.2 177.9 296.5 172.7 297C167.5 297.5 161.4 299.1 158 300.3C154.6 301.5 154.1 303.8 152 304C149.9 304.2 148.9 302.3 145.7 301.4C142.5 300.5 136.8 299.1 133 298.5C129.2 297.9 125.8 297.8 123 298C120.2 298.2 118.1 297.5 116.5 299.7C114.9 301.9 115.2 307.2 113.3 311C111.4 314.8 107.9 318.6 105.2 322.4C102.5 326.2 98.7 330.7 97.1 333.7C95.5 336.7 96.6 337.8 95.5 340.2C94.4 342.6 93.8 345.9 90.6 348.3C87.3 350.7 80.8 352.9 76 354.8C71.2 356.7 66.1 358.2 61.5 359.6C56.9 361 50.8 362.3 48.6 362.9L45 370L-6 370L-6 320.3Z" fill="#FFCCB2"/>
<path d="M-6 324L1.6 324C3 324.3 7.3 324.2 9.7 325.6C12.1 327 13.8 332.1 16.2 332.1C18.6 332.1 21.6 327.2 24.3 325.6C27 324 28.3 323.2 32.4 322.4C36.4 321.6 42.7 321.6 48.6 320.8C54.5 320 63.1 319.2 68 317.6C72.8 316 74.2 313.8 77.7 311.1C81.2 308.4 85.2 303.8 89 301.4C92.8 299 97.1 297.1 100.3 296.5C103.5 295.9 106.5 297 108.4 298.1C110.3 299.2 111.4 300.6 111.7 303C112 305.4 111.3 309.7 110 312.7C108.7 315.7 106.3 318.4 103.6 320.8C100.9 323.2 97.1 325.2 93.9 327.3C90.7 329.4 86.9 331.6 84.2 333.7C81.5 335.8 78.5 338 77.7 340.2C76.9 342.4 79.8 344.5 79.3 346.7C78.8 348.9 76.8 351.6 74.4 353.2C72 354.8 69 355.7 64.7 356.4C60.4 357.1 54 357.5 48.6 357.2C43.2 356.9 37 355.5 32.4 354.8C27.8 354.1 23.7 354.8 21 353.2C18.3 351.6 18.3 347.2 16.2 345C14 342.8 10.8 341 8.1 340.2C5.4 339.4 1.3 340.2 0 340.2L-6 340.2L-6 324Z" fill="#FFA580"/>
<path d="M27.5 348.3C27.2 345.9 31.6 336.4 34 333.7C36.4 331 39.8 331.8 42 332.1C44.2 332.4 45.6 335.1 47 335.4C48.4 335.7 48.6 334 50.2 333.7C51.8 333.4 55.2 331.3 56.6 333.7C58 336.1 56.9 345.9 58.3 348.3C59.6 350.7 62.8 347.8 64.7 348.3C66.6 348.8 69.9 350.4 69.6 351.5C69.3 352.6 66.6 354.5 63.1 354.8C59.6 355.1 53.2 354.3 48.6 353.2C44 352.1 39.1 349.1 35.6 348.3C32.1 347.5 27.8 350.7 27.5 348.3Z" fill="#FF7540"/>
<path d="M138.3 270.3C138.6 265.9 139.8 260 141.7 257C143.6 254 146.9 253.2 150 252.5C153.1 251.8 155.8 251.7 160 253C164.2 254.3 169.7 259.1 175 260.3C180.3 261.6 186.4 260.5 191.7 260.5C197 260.5 201.8 260 207 260.5C212.2 261 218.4 261.8 222.7 263.7C227 265.6 229.9 269.2 232.7 272C235.5 274.8 237.1 277.2 239.3 280.3C241.5 283.4 246 287.8 246 290.3C246 292.8 242.4 295.3 239.3 295.3C236.2 295.3 233.2 291.4 227.7 290.3C222.1 289.2 212.4 289.2 206 288.7C199.6 288.1 194.9 287 189.3 287C183.8 287 176.5 288.1 172.7 288.7C168.9 289.2 169.9 290 166.7 290.3C163.5 290.6 157.8 291.4 153.3 290.3C148.9 289.2 142.5 287 140 283.7C137.5 280.4 138 274.8 138.3 270.3Z" fill="#FFA580"/>
<path d="M145 265.3C145.8 261.8 148.1 259.1 150 257.5C151.9 255.9 153.9 255.5 156.7 255.8C159.5 256.1 163.4 257.9 166.7 259.5C170 261.1 172.5 264.6 176.7 265.3C180.9 266.1 186.6 264.4 191.7 264C196.8 263.6 203.2 262.8 207 263C210.8 263.2 211.4 264.1 214.3 265.3C217.2 266.5 224 268.1 224.3 270.3C224.6 272.5 220.4 277 216 278.7C211.6 280.4 203.1 280.3 197.7 280.3C192.2 280.3 187.1 279.2 183.3 278.7C179.5 278.1 177.8 276.2 175 277C172.2 277.8 170.3 282.4 166.7 283.7C163.1 284.9 156.9 285.3 153.3 284.5C149.7 283.7 146.4 281.9 145 278.7C143.6 275.5 144.2 268.8 145 265.3Z" fill="#FF7540"/>
<path d="M148.3 267C148.9 265.1 150.8 262.6 153.3 262C155.8 261.4 160 262.3 163.3 263.7C166.6 265.1 172.5 268.1 173.3 270.3C174.1 272.5 171.1 275.6 168.3 277C165.5 278.4 159.8 279.2 156.7 278.7C153.6 278.1 151.4 275.6 150 273.7C148.6 271.8 147.8 268.9 148.3 267Z" fill="#FF4C19"/>
<path d="M190 270.5C190.3 270 195.2 269.8 198 269.5C200.8 269.2 205.5 268.1 207 268.5C208.5 268.9 208.8 271.3 207 272C205.2 272.7 198.8 272.8 196 272.5C193.2 272.2 189.7 271 190 270.5Z" fill="#FF4C19"/>
<path d="M297.6 298C298.3 296.6 301.9 296.3 304 296.6C306.1 296.9 308.5 297.8 310 300C311.5 302.2 312.1 306.3 313 310C313.9 313.7 315.7 319.6 315.5 322C315.3 324.4 313.6 325.5 312 324.3C310.4 323.1 308 318.2 306 315C304 311.8 301.4 307.8 300 305C298.6 302.2 296.9 299.4 297.6 298Z" fill="#FFA580"/>
<path d="M150 313C151.8 311.6 155.8 313.2 160 313.5C164.2 313.8 170 314.4 175 314.5C180 314.6 185 314.1 190 314C195 313.9 201.3 313.7 205 314C208.7 314.3 209.5 314.7 212 316C214.5 317.3 217.7 319.7 220 322C222.3 324.3 224.9 327.3 226 330C227.1 332.7 227.5 335.5 226.5 338C225.5 340.5 221.4 343.2 220 345C218.6 346.8 217.2 347.5 218 349C218.8 350.5 223.7 352 225 354C226.3 356 228.5 359.8 226 361C223.5 362.2 215.2 361.5 210 361.5C204.8 361.5 200.8 361.1 195 361C189.2 360.9 180.8 361 175 361C169.2 361 164.2 361.2 160 361C155.8 360.8 151.8 362.2 150 360C148.2 357.8 148.9 352.2 149 348C149.1 343.8 150.5 339.3 150.5 335C150.5 330.7 149.1 325.7 149 322C148.9 318.3 148.2 314.4 150 313Z" fill="#FFCCB2"/>
<path d="M167 334C169.5 332.3 175.3 332.2 180 332C184.7 331.8 191.7 331.5 195 332.5C198.3 333.5 199.3 335.1 200 338C200.7 340.9 200.7 347.3 199 350C197.3 352.7 194 353.3 190 354C186 354.7 178.8 354.7 175 354C171.2 353.3 168.7 352 167 350C165.3 348 165 344.7 165 342C165 339.3 164.5 335.7 167 334Z" fill="#FFEAD6"/>
<path d="M159 321C160 319 164.2 319.5 168 319.5C171.8 319.5 180 319.6 182 321C184 322.4 181.7 326.5 180 328C178.3 329.5 175 329.4 172 330C169 330.6 164.2 333 162 331.5C159.8 330 158 323 159 321Z" fill="#FFA580"/>
<path d="M203.3 323.5C203.8 322.1 206.4 321.3 208 322.7C209.6 324.1 212.7 329.8 213 332C213.3 334.2 211.3 335.9 210 335.7C208.7 335.5 206.1 333 205 331C203.9 329 202.8 324.9 203.3 323.5Z" fill="#FFA580"/>
<path d="M143 353C144 351.6 149.2 350.3 152 350.5C154.8 350.7 159 352.5 160 354C161 355.5 160.3 358.7 158 359.5C155.7 360.3 148.5 360.1 146 359C143.5 357.9 142 354.4 143 353Z" fill="#FFA580"/>
<path d="M167.5 300C168.7 298.4 172.3 297.4 175 297.3C177.7 297.2 182.2 298.1 183.8 299.5C185.4 300.9 185.8 304.3 184.5 306C183.2 307.7 178.8 309.5 176 309.7C173.2 309.9 169.4 308.6 168 307C166.6 305.4 166.3 301.6 167.5 300Z" fill="#D6E9FF"/>
<path d="M211.4 304C212.2 302.4 217.3 302.5 220 303C222.7 303.5 226.9 305.2 227.7 307C228.5 308.8 227.1 312.8 225 313.7C222.9 314.6 217.3 314.1 215 312.5C212.7 310.9 210.6 305.6 211.4 304Z" fill="#D6E9FF"/>
<path d="M123 317.6C124.3 315.6 127.6 313.5 129.5 313.5C131.4 313.5 133.2 314.8 134.3 317.6C135.4 320.4 134.7 327 136 330.5C137.3 334 141.6 335.9 142.4 338.6C143.2 341.3 142.9 344.3 140.8 346.7C138.7 349.1 133.8 352 130 353.2C126.2 354.4 119.7 355.4 118 354C116.3 352.6 119.2 347.8 120 345C120.8 342.2 122.8 340.2 123 337C123.2 333.8 121.4 328.8 121.4 325.6C121.4 322.4 121.7 319.6 123 317.6Z" fill="#D6E9FF"/>
<path d="M61.5 361.5C62.3 360.4 69.4 357.5 75 356.5C80.6 355.5 87.8 356.1 95 355.5C102.2 354.9 112.2 353.2 118 353C123.8 352.8 128.8 353.2 130 354C131.2 354.8 128.3 356.9 125 358C121.7 359.1 115.8 359.9 110 360.5C104.2 361.1 96.7 361.1 90 361.5C83.3 361.9 74.8 363 70 363C65.2 363 60.7 362.6 61.5 361.5Z" fill="#D6E9FF"/>
<path d="M369 317L369 370L228 370L228 362C228.2 360.7 228 356.7 229 354C230 351.3 232.9 349 234 346C235.1 343 235.8 339.5 235.5 336C235.2 332.5 232.9 328.7 232.5 325C232.1 321.3 231.8 315.9 233 314C234.2 312.1 237.1 313.1 240 313.5C242.9 313.9 248.1 314.7 250.4 316.2C252.7 317.7 254.2 318.9 253.7 322.7C253.2 326.5 246.4 335.5 247.2 339C248 342.5 255.4 344.1 258.6 343.8C261.9 343.5 265.6 340 266.7 337.3C267.8 334.6 263.8 329.3 265.1 327.5C266.5 325.7 272.6 324.8 274.8 326.7C277 328.6 275.4 336.7 278.1 339C280.8 341.3 287.6 342.8 291.1 340.6C294.6 338.4 296.5 328.1 299.2 325.9C301.9 323.7 303.3 327.5 307.4 327.5C311.5 327.5 318.2 326.5 323.6 325.9C329 325.3 334.6 324.5 340 324C345.4 323.5 352.4 323.7 356.2 322.7C360 321.7 361.9 318.6 363 317.8L369 317Z" fill="#D6E9FF"/>
<path d="M369 323L369 340L344.1 340C343.4 341 341.8 344 340 346C338.2 348 335.4 350.9 333.3 352.1C331.2 353.3 329.2 353.4 327.2 353.3C325.2 353.2 324.2 352 321.2 351.5C318.2 351 311.2 353 309.1 350.3C307 347.6 308.2 338 308.5 335.2C308.8 332.4 309.1 334 311 333.4C312.9 332.8 318.2 332.3 320 331.6C321.8 330.9 319.6 329.9 321.8 329.2C324 328.5 328.9 328 333.3 327.4C337.7 326.8 344.4 326.1 348.4 325.6C352.4 325.1 355 324.8 357.4 324.4C359.8 324 362.1 323.2 363 323L369 323Z" fill="#B2CDFF"/>
<path d="M312 334C312.8 333.3 316.3 337.1 318 337C319.7 336.9 320.7 333.7 322 333.5C323.3 333.3 324.8 334.8 326 336C327.2 337.2 328.8 339.3 329 341C329.2 342.7 328.3 344.7 327 346C325.7 347.3 322.8 348.8 321 349C319.2 349.2 317.3 348.3 316 347C314.7 345.7 313.7 343.2 313 341C312.3 338.8 311.2 334.7 312 334Z" fill="#D6E9FF"/>
<path d="M331 336C331.9 334.4 333.9 331.7 336 332.2C338.1 332.7 342.8 336.9 343.5 339C344.2 341.1 341.6 343.8 340 345C338.4 346.2 335.5 346.5 334 346C332.5 345.5 331.4 343.7 330.9 342C330.4 340.3 330.1 337.6 331 336Z" fill="#80A5FF"/>
<path d="M369 327L369 339.5L353 339.5C352.8 338.6 351.5 335.9 352 334C352.5 332.1 354.3 329.1 356 328C357.7 326.9 361 327.5 362 327.4L369 327Z" fill="#80A5FF"/>
<path d="M331 346C331.7 344.4 334.8 342.7 336 342.5C337.2 342.3 338.5 343.6 338.5 345C338.5 346.4 337.1 349.8 336 351C334.9 352.2 332.8 352.8 332 352C331.2 351.2 330.3 347.6 331 346Z" fill="#4075FF"/>
<path d="M303 353C303.3 352.2 309.2 351.4 312 351.2C314.8 351 317.5 351.5 320 351.8C322.5 352.1 327 352.4 327 353C327 353.6 322.8 355 320 355.5C317.2 356 312.8 356.2 310 355.8C307.2 355.4 302.7 353.8 303 353Z" fill="#194CFF"/>
<path d="M304 353.5C304 353 307.5 352.2 309 352.2C310.5 352.2 313 352.9 313 353.4C313 353.9 310.5 355 309 355C307.5 355 304 354 304 353.5Z" fill="#0032E4"/>
<path d="M318.2 361C318.7 360.2 320.4 359.1 322 358.8C323.6 358.5 326.6 358.5 328 359C329.4 359.5 330.8 361.2 330.3 362C329.8 362.8 326.9 363.8 325 364C323.1 364.2 320.1 364 319 363.5C317.9 363 317.7 361.8 318.2 361Z" fill="#194CFF"/>
<path d="M235.8 353C236.6 352.1 241.8 350.5 245 350.3C248.2 350.1 254.5 351.1 255.3 352C256.1 352.9 252.6 355.3 250 356C247.4 356.7 242.4 356.5 240 356C237.6 355.5 235 353.9 235.8 353Z" fill="#B2CDFF"/>
<path d="M268.3 356C270 355 274.7 353.8 280 353.6C285.3 353.4 294.4 354.1 300 355C305.6 355.9 313.1 357.8 313.9 359C314.7 360.2 309.8 361.9 305 362.5C300.2 363.1 290.8 363 285 362.5C279.2 362 272.8 360.6 270 359.5C267.2 358.4 266.6 357 268.3 356Z" fill="#FF7540"/>
<path d="M275 357.5C276.7 356.7 285 355.6 290 355.8C295 356 304.2 357.6 305 358.5C305.8 359.4 299.2 361.2 295 361.5C290.8 361.8 283.3 361.2 280 360.5C276.7 359.8 273.3 358.3 275 357.5Z" fill="#E43200"/>
<path d="M286 358C287.2 357.4 292.2 356.8 295 357C297.8 357.2 302.5 358.4 302.5 359C302.5 359.6 297.4 360.6 295 360.9C292.6 361.1 289.5 361 288 360.5C286.5 360 284.8 358.6 286 358Z" fill="#8A0000"/>
<path d="M196.8 357.5C198.5 356.8 205.1 355.2 210 355.2C214.9 355.2 225.7 356.7 226 357.5C226.3 358.3 216.3 359.7 212 360C207.7 360.3 202.5 359.9 200 359.5C197.5 359.1 195.1 358.2 196.8 357.5Z" fill="#FF7540"/>
<path d="M205 357.3C205 356.9 209.2 356.5 211 356.5C212.8 356.5 216 357.1 216 357.5C216 357.9 212.8 358.8 211 358.8C209.2 358.8 205 357.7 205 357.3Z" fill="#FF4C19"/>
<path d="M330 356C330.8 355.1 334.2 353 336 352.5C337.8 352 340.3 352.2 340.5 353C340.7 353.8 338.6 356.2 337 357C335.4 357.8 332.2 358.2 331 358C329.8 357.8 329.2 356.9 330 356Z" fill="#FF7540"/>
<path d="M344.3 340.3L369 340.3L369 370L336.8 370L336.8 357L341 357L341 348.7L344.3 348.7L344.3 340.3Z" fill="#FFFFFF"/>
</g></g>
<rect x="155.5" y="150.3" width="362.9" height="363.8" fill="none" stroke="#000" stroke-width="2.1"/>
<path d="M155.5 150.3V139.3M155.5 514.1V524.8M215.98 150.3V139.3M215.98 514.1V524.8M276.47 150.3V139.3M276.47 514.1V524.8M336.95 150.3V139.3M336.95 514.1V524.8M397.43 150.3V139.3M397.43 514.1V524.8M457.92 150.3V139.3M457.92 514.1V524.8M518.4 150.3V139.3M518.4 514.1V524.8" stroke="#000" stroke-width="2.1" fill="none"/>
<path d="M175.66 150.3V144.8M175.66 514.1V519.6M195.82 150.3V144.8M195.82 514.1V519.6M236.14 150.3V144.8M236.14 514.1V519.6M256.31 150.3V144.8M256.31 514.1V519.6M296.63 150.3V144.8M296.63 514.1V519.6M316.79 150.3V144.8M316.79 514.1V519.6M357.11 150.3V144.8M357.11 514.1V519.6M377.27 150.3V144.8M377.27 514.1V519.6M417.59 150.3V144.8M417.59 514.1V519.6M437.76 150.3V144.8M437.76 514.1V519.6M478.08 150.3V144.8M478.08 514.1V519.6M498.24 150.3V144.8M498.24 514.1V519.6" stroke="#000" stroke-width="1.5" fill="none"/>
<path d="M145 200.1H155.5M145 275.01H155.5M145 309.84H155.5M145 332.78H155.5M145 357.1H155.5M145 384.75H155.5M145 404.36H155.5M145 419.58H155.5M145 432.01H155.5M145 451.62H155.5M145 466.84H155.5M145 489.78H155.5M145 503.02H155.5M145 514.1H155.5M518.4 162.3H529.4M518.4 232.7H529.4M518.4 305.9H529.4M518.4 380.9H529.4M518.4 453.2H529.4" stroke="#000" stroke-width="2.1" fill="none"/>
<rect x="722.9" y="150.3" width="362.9" height="363.8" fill="none" stroke="#000" stroke-width="2.1"/>
<path d="M722.9 150.3V139.3M722.9 514.1V524.8M783.38 150.3V139.3M783.38 514.1V524.8M843.87 150.3V139.3M843.87 514.1V524.8M904.35 150.3V139.3M904.35 514.1V524.8M964.83 150.3V139.3M964.83 514.1V524.8M1025.32 150.3V139.3M1025.32 514.1V524.8M1085.8 150.3V139.3M1085.8 514.1V524.8" stroke="#000" stroke-width="2.1" fill="none"/>
<path d="M743.06 150.3V144.8M743.06 514.1V519.6M763.22 150.3V144.8M763.22 514.1V519.6M803.54 150.3V144.8M803.54 514.1V519.6M823.71 150.3V144.8M823.71 514.1V519.6M864.03 150.3V144.8M864.03 514.1V519.6M884.19 150.3V144.8M884.19 514.1V519.6M924.51 150.3V144.8M924.51 514.1V519.6M944.67 150.3V144.8M944.67 514.1V519.6M984.99 150.3V144.8M984.99 514.1V519.6M1005.16 150.3V144.8M1005.16 514.1V519.6M1045.48 150.3V144.8M1045.48 514.1V519.6M1065.64 150.3V144.8M1065.64 514.1V519.6" stroke="#000" stroke-width="1.5" fill="none"/>
<path d="M712.4 200.1H722.9M712.4 275.01H722.9M712.4 309.84H722.9M712.4 332.78H722.9M712.4 357.1H722.9M712.4 384.75H722.9M712.4 404.36H722.9M712.4 419.58H722.9M712.4 432.01H722.9M712.4 451.62H722.9M712.4 466.84H722.9M712.4 489.78H722.9M712.4 503.02H722.9M712.4 514.1H722.9M1085.8 162.3H1096.8M1085.8 232.7H1096.8M1085.8 305.9H1096.8M1085.8 380.9H1096.8M1085.8 453.2H1096.8" stroke="#000" stroke-width="2.1" fill="none"/>
<rect x="439" y="731" width="363" height="364" fill="none" stroke="#000" stroke-width="2.1"/>
<path d="M439 731V720M439 1095V1105.7M499.5 731V720M499.5 1095V1105.7M560 731V720M560 1095V1105.7M620.5 731V720M620.5 1095V1105.7M681 731V720M681 1095V1105.7M741.5 731V720M741.5 1095V1105.7M802 731V720M802 1095V1105.7" stroke="#000" stroke-width="2.1" fill="none"/>
<path d="M459.17 731V725.5M459.17 1095V1100.5M479.33 731V725.5M479.33 1095V1100.5M519.67 731V725.5M519.67 1095V1100.5M539.83 731V725.5M539.83 1095V1100.5M580.17 731V725.5M580.17 1095V1100.5M600.33 731V725.5M600.33 1095V1100.5M640.67 731V725.5M640.67 1095V1100.5M660.83 731V725.5M660.83 1095V1100.5M701.17 731V725.5M701.17 1095V1100.5M721.33 731V725.5M721.33 1095V1100.5M761.67 731V725.5M761.67 1095V1100.5M781.83 731V725.5M781.83 1095V1100.5" stroke="#000" stroke-width="1.5" fill="none"/>
<path d="M428.5 781H439M428.5 855.91H439M428.5 890.74H439M428.5 913.68H439M428.5 938H439M428.5 965.65H439M428.5 985.26H439M428.5 1000.48H439M428.5 1012.91H439M428.5 1032.52H439M428.5 1047.74H439M428.5 1070.68H439M428.5 1083.92H439M428.5 1095H439M802 743.2H813M802 813.6H813M802 886.8H813M802 961.8H813M802 1034.1H813" stroke="#000" stroke-width="2.1" fill="none"/>
<rect x="160.2" y="579.9" width="22.35" height="32.3" fill="#00008A"/>
<rect x="182.25" y="579.9" width="22.35" height="32.3" fill="#0023B9"/>
<rect x="204.3" y="579.9" width="22.35" height="32.3" fill="#0032E4"/>
<rect x="226.35" y="579.9" width="22.35" height="32.3" fill="#194CFF"/>
<rect x="248.4" y="579.9" width="22.35" height="32.3" fill="#4075FF"/>
<rect x="270.45" y="579.9" width="22.35" height="32.3" fill="#80A5FF"/>
<rect x="292.5" y="579.9" width="22.35" height="32.3" fill="#B2CDFF"/>
<rect x="314.55" y="579.9" width="22.35" height="32.3" fill="#D6E9FF"/>
<rect x="336.6" y="579.9" width="22.35" height="32.3" fill="#FFEAD6"/>
<rect x="358.65" y="579.9" width="22.35" height="32.3" fill="#FFCCB2"/>
<rect x="380.7" y="579.9" width="22.35" height="32.3" fill="#FFA580"/>
<rect x="402.75" y="579.9" width="22.35" height="32.3" fill="#FF7540"/>
<rect x="424.8" y="579.9" width="22.35" height="32.3" fill="#FF4C19"/>
<rect x="446.85" y="579.9" width="22.35" height="32.3" fill="#E43200"/>
<rect x="468.9" y="579.9" width="22.35" height="32.3" fill="#B92300"/>
<rect x="490.95" y="579.9" width="22.35" height="32.3" fill="#8A0000"/>
<path d="M182.25 579.9V612.2M204.3 579.9V612.2M226.35 579.9V612.2M248.4 579.9V612.2M270.45 579.9V612.2M292.5 579.9V612.2M314.55 579.9V612.2M336.6 579.9V612.2M358.65 579.9V612.2M380.7 579.9V612.2M402.75 579.9V612.2M424.8 579.9V612.2M446.85 579.9V612.2M468.9 579.9V612.2M490.95 579.9V612.2" stroke="#000" stroke-width="1.1" fill="none"/>
<rect x="160.2" y="579.9" width="352.8" height="32.3" fill="none" stroke="#000" stroke-width="1.4"/>
<rect x="727.6" y="579.9" width="22.35" height="32.3" fill="#00008A"/>
<rect x="749.65" y="579.9" width="22.35" height="32.3" fill="#0023B9"/>
<rect x="771.7" y="579.9" width="22.35" height="32.3" fill="#0032E4"/>
<rect x="793.75" y="579.9" width="22.35" height="32.3" fill="#194CFF"/>
<rect x="815.8" y="579.9" width="22.35" height="32.3" fill="#4075FF"/>
<rect x="837.85" y="579.9" width="22.35" height="32.3" fill="#80A5FF"/>
<rect x="859.9" y="579.9" width="22.35" height="32.3" fill="#B2CDFF"/>
<rect x="881.95" y="579.9" width="22.35" height="32.3" fill="#D6E9FF"/>
<rect x="904" y="579.9" width="22.35" height="32.3" fill="#FFEAD6"/>
<rect x="926.05" y="579.9" width="22.35" height="32.3" fill="#FFCCB2"/>
<rect x="948.1" y="579.9" width="22.35" height="32.3" fill="#FFA580"/>
<rect x="970.15" y="579.9" width="22.35" height="32.3" fill="#FF7540"/>
<rect x="992.2" y="579.9" width="22.35" height="32.3" fill="#FF4C19"/>
<rect x="1014.25" y="579.9" width="22.35" height="32.3" fill="#E43200"/>
<rect x="1036.3" y="579.9" width="22.35" height="32.3" fill="#B92300"/>
<rect x="1058.35" y="579.9" width="22.35" height="32.3" fill="#8A0000"/>
<path d="M749.65 579.9V612.2M771.7 579.9V612.2M793.75 579.9V612.2M815.8 579.9V612.2M837.85 579.9V612.2M859.9 579.9V612.2M881.95 579.9V612.2M904 579.9V612.2M926.05 579.9V612.2M948.1 579.9V612.2M970.15 579.9V612.2M992.2 579.9V612.2M1014.25 579.9V612.2M1036.3 579.9V612.2M1058.35 579.9V612.2" stroke="#000" stroke-width="1.1" fill="none"/>
<rect x="727.6" y="579.9" width="352.8" height="32.3" fill="none" stroke="#000" stroke-width="1.4"/>
<rect x="941.2" y="798.7" width="49.4" height="18.6" fill="#8A0000"/>
<rect x="941.2" y="817" width="49.4" height="18.6" fill="#B92300"/>
<rect x="941.2" y="835.3" width="49.4" height="18.6" fill="#E43200"/>
<rect x="941.2" y="853.6" width="49.4" height="18.6" fill="#FF4C19"/>
<rect x="941.2" y="871.9" width="49.4" height="18.6" fill="#FF7540"/>
<rect x="941.2" y="890.2" width="49.4" height="18.6" fill="#FFA580"/>
<rect x="941.2" y="908.5" width="49.4" height="18.6" fill="#FFCCB2"/>
<rect x="941.2" y="926.8" width="49.4" height="18.6" fill="#FFEAD6"/>
<rect x="941.2" y="945.1" width="49.4" height="18.6" fill="#D6E9FF"/>
<rect x="941.2" y="963.4" width="49.4" height="18.6" fill="#B2CDFF"/>
<rect x="941.2" y="981.7" width="49.4" height="18.6" fill="#80A5FF"/>
<rect x="941.2" y="1000" width="49.4" height="18.6" fill="#4075FF"/>
<rect x="941.2" y="1018.3" width="49.4" height="18.6" fill="#194CFF"/>
<rect x="941.2" y="1036.6" width="49.4" height="18.6" fill="#0032E4"/>
<rect x="941.2" y="1054.9" width="49.4" height="18.6" fill="#0023B9"/>
<rect x="941.2" y="1073.2" width="49.4" height="18.6" fill="#00008A"/>
<path d="M941.2 817H990.6M941.2 835.3H990.6M941.2 853.6H990.6M941.2 871.9H990.6M941.2 890.2H990.6M941.2 908.5H990.6M941.2 926.8H990.6M941.2 945.1H990.6M941.2 963.4H990.6M941.2 981.7H990.6M941.2 1000H990.6M941.2 1018.3H990.6M941.2 1036.6H990.6M941.2 1054.9H990.6M941.2 1073.2H990.6" stroke="#000" stroke-width="1.1" fill="none"/>
<rect x="941.2" y="798.7" width="49.4" height="292.8" fill="none" stroke="#000" stroke-width="1.4"/>
<g style="will-change:transform">
<text class="s" transform="translate(120.45 205.4) scale(1.0854 1)" x="-1.14" y="0" font-size="15">10</text>
<text class="s" transform="translate(119.83 280.31) scale(1.0854 1)" x="-0.57" y="0" font-size="15">30</text>
<text class="s" transform="translate(119.87 315.14) scale(1.0854 1)" x="-0.6" y="0" font-size="15">50</text>
<text class="s" transform="translate(120.04 338.08) scale(1.0854 1)" x="-0.77" y="0" font-size="15">70</text>
<text class="s" transform="translate(111.4 362.4) scale(1.0854 1)" x="-1.14" y="0" font-size="15">100</text>
<text class="s" transform="translate(111.4 390.05) scale(1.0854 1)" x="-1.14" y="0" font-size="15">150</text>
<text class="s" transform="translate(110.98 409.66) scale(1.0854 1)" x="-0.75" y="0" font-size="15">200</text>
<text class="s" transform="translate(110.98 424.88) scale(1.0854 1)" x="-0.75" y="0" font-size="15">250</text>
<text class="s" transform="translate(110.78 437.31) scale(1.0854 1)" x="-0.57" y="0" font-size="15">300</text>
<text class="s" transform="translate(110.52 456.92) scale(1.0854 1)" x="-0.33" y="0" font-size="15">400</text>
<text class="s" transform="translate(110.81 472.14) scale(1.0854 1)" x="-0.6" y="0" font-size="15">500</text>
<text class="s" transform="translate(110.99 495.08) scale(1.0854 1)" x="-0.77" y="0" font-size="15">700</text>
<text class="s" transform="translate(110.86 508.32) scale(1.0854 1)" x="-0.65" y="0" font-size="15">850</text>
<text class="s" transform="translate(102.35 519.4) scale(1.0854 1)" x="-1.14" y="0" font-size="15">1000</text>
<text class="s" transform="translate(537 167.9) scale(1.0407 1)" x="-0.61" y="0" font-size="16">35</text>
<text class="s" transform="translate(537 238.3) scale(1.0407 1)" x="-0.8" y="0" font-size="16">28</text>
<text class="s" transform="translate(537 311.5) scale(1.0407 1)" x="-0.8" y="0" font-size="16">21</text>
<text class="s" transform="translate(537 386.5) scale(1.0407 1)" x="-1.22" y="0" font-size="16">14</text>
<text class="s" transform="translate(537 458.8) scale(1.0407 1)" x="-0.82" y="0" font-size="16">7</text>
<text class="s" transform="translate(141.8 543.6) scale(1.0491 1)" x="-0.7" y="0" font-size="15.3">90N</text>
<text class="s" transform="translate(202.32 543.6) scale(1.0491 1)" x="-0.77" y="0" font-size="15.3">60N</text>
<text class="s" transform="translate(262.7 543.6) scale(1.0491 1)" x="-0.58" y="0" font-size="15.3">30N</text>
<text class="s" transform="translate(333.11 543.6) scale(1.0491 1)" x="-0.6" y="0" font-size="15.3">0</text>
<text class="s" transform="translate(383.82 543.6) scale(1.0491 1)" x="-0.58" y="0" font-size="15.3">30S</text>
<text class="s" transform="translate(444.4 543.6) scale(1.0491 1)" x="-0.77" y="0" font-size="15.3">60S</text>
<text class="s" transform="translate(504.85 543.6) scale(1.0491 1)" x="-0.7" y="0" font-size="15.3">90S</text>
<text class="b" transform="translate(87.5 412.9) rotate(-90) scale(1.1020 1)" x="-1.82" y="0" font-size="22.2">Pressure</text>
<text class="b" transform="translate(87.5 302.2) rotate(-90) scale(1.1967 1)" x="-1.38" y="0" font-size="22.2">(mb)</text>
<text class="b" transform="translate(583 398.3) rotate(-90) scale(1.0916 1)" x="-1.82" y="0" font-size="22.2">Height</text>
<text class="b" transform="translate(583 312.3) rotate(-90) scale(1.1075 1)" x="-1.38" y="0" font-size="22.2">(km)</text>
<text class="b" transform="translate(154.2 134.5) scale(0.8293 1)" x="-1.83" y="0" font-size="22.3">LW</text>
<text class="b" transform="translate(192 134.5) scale(1.0328 1)" x="-1.54" y="0" font-size="22.3">heating</text>
<text class="b" transform="translate(278.3 134.5) scale(1.0676 1)" x="-1.47" y="0" font-size="22.3">rate</text>
<text class="b" transform="translate(456.8 134.5) scale(1.1170 1)" x="-1.83" y="0" font-size="22.3">K/day</text>
<text class="s" transform="translate(687.85 205.4) scale(1.0854 1)" x="-1.14" y="0" font-size="15">10</text>
<text class="s" transform="translate(687.23 280.31) scale(1.0854 1)" x="-0.57" y="0" font-size="15">30</text>
<text class="s" transform="translate(687.27 315.14) scale(1.0854 1)" x="-0.6" y="0" font-size="15">50</text>
<text class="s" transform="translate(687.44 338.08) scale(1.0854 1)" x="-0.77" y="0" font-size="15">70</text>
<text class="s" transform="translate(678.8 362.4) scale(1.0854 1)" x="-1.14" y="0" font-size="15">100</text>
<text class="s" transform="translate(678.8 390.05) scale(1.0854 1)" x="-1.14" y="0" font-size="15">150</text>
<text class="s" transform="translate(678.38 409.66) scale(1.0854 1)" x="-0.75" y="0" font-size="15">200</text>
<text class="s" transform="translate(678.38 424.88) scale(1.0854 1)" x="-0.75" y="0" font-size="15">250</text>
<text class="s" transform="translate(678.18 437.31) scale(1.0854 1)" x="-0.57" y="0" font-size="15">300</text>
<text class="s" transform="translate(677.92 456.92) scale(1.0854 1)" x="-0.33" y="0" font-size="15">400</text>
<text class="s" transform="translate(678.21 472.14) scale(1.0854 1)" x="-0.6" y="0" font-size="15">500</text>
<text class="s" transform="translate(678.39 495.08) scale(1.0854 1)" x="-0.77" y="0" font-size="15">700</text>
<text class="s" transform="translate(678.26 508.32) scale(1.0854 1)" x="-0.65" y="0" font-size="15">850</text>
<text class="s" transform="translate(669.75 519.4) scale(1.0854 1)" x="-1.14" y="0" font-size="15">1000</text>
<text class="s" transform="translate(1104.4 167.9) scale(1.0407 1)" x="-0.61" y="0" font-size="16">35</text>
<text class="s" transform="translate(1104.4 238.3) scale(1.0407 1)" x="-0.8" y="0" font-size="16">28</text>
<text class="s" transform="translate(1104.4 311.5) scale(1.0407 1)" x="-0.8" y="0" font-size="16">21</text>
<text class="s" transform="translate(1104.4 386.5) scale(1.0407 1)" x="-1.22" y="0" font-size="16">14</text>
<text class="s" transform="translate(1104.4 458.8) scale(1.0407 1)" x="-0.82" y="0" font-size="16">7</text>
<text class="s" transform="translate(709.2 543.6) scale(1.0491 1)" x="-0.7" y="0" font-size="15.3">90N</text>
<text class="s" transform="translate(769.72 543.6) scale(1.0491 1)" x="-0.77" y="0" font-size="15.3">60N</text>
<text class="s" transform="translate(830.1 543.6) scale(1.0491 1)" x="-0.58" y="0" font-size="15.3">30N</text>
<text class="s" transform="translate(900.51 543.6) scale(1.0491 1)" x="-0.6" y="0" font-size="15.3">0</text>
<text class="s" transform="translate(951.22 543.6) scale(1.0491 1)" x="-0.58" y="0" font-size="15.3">30S</text>
<text class="s" transform="translate(1011.8 543.6) scale(1.0491 1)" x="-0.77" y="0" font-size="15.3">60S</text>
<text class="s" transform="translate(1072.25 543.6) scale(1.0491 1)" x="-0.7" y="0" font-size="15.3">90S</text>
<text class="b" transform="translate(654.9 412.9) rotate(-90) scale(1.1020 1)" x="-1.82" y="0" font-size="22.2">Pressure</text>
<text class="b" transform="translate(654.9 302.2) rotate(-90) scale(1.1967 1)" x="-1.38" y="0" font-size="22.2">(mb)</text>
<text class="b" transform="translate(1150.4 398.3) rotate(-90) scale(1.0916 1)" x="-1.82" y="0" font-size="22.2">Height</text>
<text class="b" transform="translate(1150.4 312.3) rotate(-90) scale(1.1075 1)" x="-1.38" y="0" font-size="22.2">(km)</text>
<text class="b" transform="translate(721.6 134.5) scale(0.8293 1)" x="-1.83" y="0" font-size="22.3">LW</text>
<text class="b" transform="translate(759.4 134.5) scale(1.0328 1)" x="-1.54" y="0" font-size="22.3">heating</text>
<text class="b" transform="translate(845.7 134.5) scale(1.0676 1)" x="-1.47" y="0" font-size="22.3">rate</text>
<text class="b" transform="translate(1024.2 134.5) scale(1.1170 1)" x="-1.83" y="0" font-size="22.3">K/day</text>
<text class="s" transform="translate(403.95 786.3) scale(1.0854 1)" x="-1.14" y="0" font-size="15">10</text>
<text class="s" transform="translate(403.33 861.21) scale(1.0854 1)" x="-0.57" y="0" font-size="15">30</text>
<text class="s" transform="translate(403.37 896.04) scale(1.0854 1)" x="-0.6" y="0" font-size="15">50</text>
<text class="s" transform="translate(403.54 918.98) scale(1.0854 1)" x="-0.77" y="0" font-size="15">70</text>
<text class="s" transform="translate(394.9 943.3) scale(1.0854 1)" x="-1.14" y="0" font-size="15">100</text>
<text class="s" transform="translate(394.9 970.95) scale(1.0854 1)" x="-1.14" y="0" font-size="15">150</text>
<text class="s" transform="translate(394.48 990.56) scale(1.0854 1)" x="-0.75" y="0" font-size="15">200</text>
<text class="s" transform="translate(394.48 1005.78) scale(1.0854 1)" x="-0.75" y="0" font-size="15">250</text>
<text class="s" transform="translate(394.28 1018.21) scale(1.0854 1)" x="-0.57" y="0" font-size="15">300</text>
<text class="s" transform="translate(394.02 1037.82) scale(1.0854 1)" x="-0.33" y="0" font-size="15">400</text>
<text class="s" transform="translate(394.31 1053.04) scale(1.0854 1)" x="-0.6" y="0" font-size="15">500</text>
<text class="s" transform="translate(394.49 1075.98) scale(1.0854 1)" x="-0.77" y="0" font-size="15">700</text>
<text class="s" transform="translate(394.36 1089.22) scale(1.0854 1)" x="-0.65" y="0" font-size="15">850</text>
<text class="s" transform="translate(385.85 1100.3) scale(1.0854 1)" x="-1.14" y="0" font-size="15">1000</text>
<text class="s" transform="translate(820.6 748.8) scale(1.0407 1)" x="-0.61" y="0" font-size="16">35</text>
<text class="s" transform="translate(820.6 819.2) scale(1.0407 1)" x="-0.8" y="0" font-size="16">28</text>
<text class="s" transform="translate(820.6 892.4) scale(1.0407 1)" x="-0.8" y="0" font-size="16">21</text>
<text class="s" transform="translate(820.6 967.4) scale(1.0407 1)" x="-1.22" y="0" font-size="16">14</text>
<text class="s" transform="translate(820.6 1039.7) scale(1.0407 1)" x="-0.82" y="0" font-size="16">7</text>
<text class="s" transform="translate(425.3 1124.5) scale(1.0491 1)" x="-0.7" y="0" font-size="15.3">90N</text>
<text class="s" transform="translate(485.83 1124.5) scale(1.0491 1)" x="-0.77" y="0" font-size="15.3">60N</text>
<text class="s" transform="translate(546.24 1124.5) scale(1.0491 1)" x="-0.58" y="0" font-size="15.3">30N</text>
<text class="s" transform="translate(616.66 1124.5) scale(1.0491 1)" x="-0.6" y="0" font-size="15.3">0</text>
<text class="s" transform="translate(667.39 1124.5) scale(1.0491 1)" x="-0.58" y="0" font-size="15.3">30S</text>
<text class="s" transform="translate(727.98 1124.5) scale(1.0491 1)" x="-0.77" y="0" font-size="15.3">60S</text>
<text class="s" transform="translate(788.45 1124.5) scale(1.0491 1)" x="-0.7" y="0" font-size="15.3">90S</text>
<text class="b" transform="translate(371 993.6) rotate(-90) scale(1.1020 1)" x="-1.82" y="0" font-size="22.2">Pressure</text>
<text class="b" transform="translate(371 882.9) rotate(-90) scale(1.1967 1)" x="-1.38" y="0" font-size="22.2">(mb)</text>
<text class="b" transform="translate(866.6 979) rotate(-90) scale(1.0916 1)" x="-1.82" y="0" font-size="22.2">Height</text>
<text class="b" transform="translate(866.6 893) rotate(-90) scale(1.1075 1)" x="-1.38" y="0" font-size="22.2">(km)</text>
<text class="b" transform="translate(437.7 715.2) scale(0.8293 1)" x="-1.83" y="0" font-size="22.3">LW</text>
<text class="b" transform="translate(475.5 715.2) scale(1.0328 1)" x="-1.54" y="0" font-size="22.3">heating</text>
<text class="b" transform="translate(561.8 715.2) scale(1.0676 1)" x="-1.47" y="0" font-size="22.3">rate</text>
<text class="b" transform="translate(740.4 715.2) scale(1.1170 1)" x="-1.83" y="0" font-size="22.3">K/day</text>
<text class="x" transform="translate(593.3 57.4) scale(0.8258 1)" x="-2.78" y="0" font-size="33.9">D</text>
<text class="x" transform="translate(613.9 57.4) scale(0.8397 1)" x="-0.51" y="0" font-size="33.9">J</text>
<text class="x" transform="translate(632.8 57.4) scale(0.8747 1)" x="-2.78" y="0" font-size="33.9">F</text>
<text class="b" transform="translate(57.7 101.3) scale(0.9880 1)" x="-1.13" y="0" font-size="22.6">CESM2B2</text>
<text class="b" transform="translate(162.9 101.3) scale(0.8789 1)" x="0.36" y="0" font-size="22.6">_</text>
<text class="b" transform="translate(177.4 101.3) scale(1.0635 1)" x="-1.06" y="0" font-size="22.6">Oslo</text>
<text class="b" transform="translate(226.7 101.3) scale(0.8031 1)" x="0.36" y="0" font-size="22.6">_</text>
<text class="b" transform="translate(241.2 101.3) scale(1.0611 1)" x="-1.49" y="0" font-size="22.6">no</text>
<text class="b" transform="translate(269.2 101.3) scale(0.9875 1)" x="-1.85" y="0" font-size="22.6">FC55CLUBB</text>
<text class="b" transform="translate(398.4 101.3) scale(0.8865 1)" x="0.36" y="0" font-size="22.6">_</text>
<text class="b" transform="translate(413.3 101.3) scale(1.1090 1)" x="-0.95" y="0" font-size="22.6">dcs480</text>
<text class="b" transform="translate(506.3 101.3) scale(1.1739 1)" x="-1.4" y="0" font-size="22.6">(yrs</text>
<text class="b" transform="translate(561.2 101.3) scale(1.2672 1)" x="-1.13" y="0" font-size="22.6">2−5)</text>
<text class="b" transform="translate(674 101.4) scale(0.9880 1)" x="-1.13" y="0" font-size="22.6">CESM2B2</text>
<text class="b" transform="translate(779.2 101.4) scale(0.8789 1)" x="0.36" y="0" font-size="22.6">_</text>
<text class="b" transform="translate(793.7 101.4) scale(1.0635 1)" x="-1.06" y="0" font-size="22.6">Oslo</text>
<text class="b" transform="translate(843 101.4) scale(0.8031 1)" x="0.36" y="0" font-size="22.6">_</text>
<text class="b" transform="translate(857.5 101.4) scale(1.0611 1)" x="-1.49" y="0" font-size="22.6">no</text>
<text class="b" transform="translate(885.5 101.4) scale(0.9875 1)" x="-1.85" y="0" font-size="22.6">FC55CLUBB</text>
<text class="b" transform="translate(1026.1 101.4) scale(1.1259 1)" x="-1.4" y="0" font-size="22.6">(yrs</text>
<text class="b" transform="translate(1080.6 101.4) scale(1.2487 1)" x="-1.13" y="0" font-size="22.6">2−5)</text>
<text class="b" transform="translate(211.8 681.9) scale(0.9880 1)" x="-1.13" y="0" font-size="22.6">CESM2B2</text>
<text class="b" transform="translate(317 681.9) scale(0.8789 1)" x="0.36" y="0" font-size="22.6">_</text>
<text class="b" transform="translate(331.5 681.9) scale(1.0635 1)" x="-1.06" y="0" font-size="22.6">Oslo</text>
<text class="b" transform="translate(380.8 681.9) scale(0.8031 1)" x="0.36" y="0" font-size="22.6">_</text>
<text class="b" transform="translate(395.3 681.9) scale(1.0611 1)" x="-1.49" y="0" font-size="22.6">no</text>
<text class="b" transform="translate(423.3 681.9) scale(0.9875 1)" x="-1.85" y="0" font-size="22.6">FC55CLUBB</text>
<text class="b" transform="translate(552.5 681.9) scale(0.8865 1)" x="0.36" y="0" font-size="22.6">_</text>
<text class="b" transform="translate(567.4 681.9) scale(1.1090 1)" x="-0.95" y="0" font-size="22.6">dcs480</text>
<text class="b" transform="translate(662.3 681.9) scale(1.2266 1)" x="-1.11" y="0" font-size="22.6">−</text>
<text class="b" transform="translate(691 681.9) scale(0.9880 1)" x="-1.13" y="0" font-size="22.6">CESM2B2</text>
<text class="b" transform="translate(796.2 681.9) scale(0.8789 1)" x="0.36" y="0" font-size="22.6">_</text>
<text class="b" transform="translate(810.7 681.9) scale(1.0635 1)" x="-1.06" y="0" font-size="22.6">Oslo</text>
<text class="b" transform="translate(860 681.9) scale(0.8031 1)" x="0.36" y="0" font-size="22.6">_</text>
<text class="b" transform="translate(874.5 681.9) scale(1.0611 1)" x="-1.49" y="0" font-size="22.6">no</text>
<text class="b" transform="translate(902.5 681.9) scale(0.9875 1)" x="-1.85" y="0" font-size="22.6">FC55CLUBB</text>
<text class="m" transform="translate(199.7 562.9) scale(0.9304 1)" x="-1.53" y="0" font-size="18.6">MIN</text>
<text class="m" transform="translate(240.7 562.9) scale(1.2806 1)" x="-0.89" y="0" font-size="18.6">=</text>
<text class="m" transform="translate(347.5 562.9) scale(0.8674 1)" x="-1.53" y="0" font-size="18.6">MAX</text>
<text class="m" transform="translate(393 562.9) scale(1.2696 1)" x="-0.89" y="0" font-size="18.6">=</text>
<text class="m" transform="translate(273.3 562.9) scale(1.1862 1)" x="-0.91" y="0" font-size="18.6">−5.20</text>
<text class="m" transform="translate(435.2 562.9) scale(1.0944 1)" x="-0.73" y="0" font-size="18.6">0.12</text>
<text class="m" transform="translate(767.1 562.9) scale(0.9304 1)" x="-1.53" y="0" font-size="18.6">MIN</text>
<text class="m" transform="translate(808.1 562.9) scale(1.2806 1)" x="-0.89" y="0" font-size="18.6">=</text>
<text class="m" transform="translate(914.9 562.9) scale(0.8674 1)" x="-1.53" y="0" font-size="18.6">MAX</text>
<text class="m" transform="translate(960.4 562.9) scale(1.2696 1)" x="-0.89" y="0" font-size="18.6">=</text>
<text class="m" transform="translate(840.7 562.9) scale(1.1920 1)" x="-0.91" y="0" font-size="18.6">−5.22</text>
<text class="m" transform="translate(1002.6 562.9) scale(1.0944 1)" x="-0.73" y="0" font-size="18.6">0.17</text>
<text class="m" transform="translate(850.9 768.4) scale(0.9304 1)" x="-1.53" y="0" font-size="18.6">MIN</text>
<text class="m" transform="translate(891.9 768.4) scale(1.2806 1)" x="-0.89" y="0" font-size="18.6">=</text>
<text class="m" transform="translate(998.7 768.4) scale(0.8674 1)" x="-1.53" y="0" font-size="18.6">MAX</text>
<text class="m" transform="translate(1044.2 768.4) scale(1.2696 1)" x="-0.89" y="0" font-size="18.6">=</text>
<text class="m" transform="translate(924.5 768.4) scale(1.1766 1)" x="-0.91" y="0" font-size="18.6">−0.87</text>
<text class="m" transform="translate(1086.4 768.4) scale(1.1048 1)" x="-1.41" y="0" font-size="18.6">1.02</text>
<text class="s" transform="translate(172.1 633.9) scale(1.1891 1)" x="-0.8" y="0" font-size="16.4">−7</text>
<text class="s" transform="translate(216.11 633.9) scale(1.1891 1)" x="-0.8" y="0" font-size="16.4">−5</text>
<text class="s" transform="translate(260.1 633.9) scale(1.1891 1)" x="-0.8" y="0" font-size="16.4">−4</text>
<text class="s" transform="translate(304.33 633.9) scale(1.1891 1)" x="-0.8" y="0" font-size="16.4">−3</text>
<text class="s" transform="translate(348.5 633.9) scale(1.1891 1)" x="-0.8" y="0" font-size="16.4">−2</text>
<text class="s" transform="translate(392.58 633.9) scale(1.1891 1)" x="-0.8" y="0" font-size="16.4">−1</text>
<text class="s" transform="translate(442.18 633.9) scale(1.1891 1)" x="-0.64" y="0" font-size="16.4">0</text>
<text class="s" transform="translate(486.74 633.9) scale(1.1891 1)" x="-1.25" y="0" font-size="16.4">1</text>
<text class="s" transform="translate(739.5 633.9) scale(1.1891 1)" x="-0.8" y="0" font-size="16.4">−7</text>
<text class="s" transform="translate(783.51 633.9) scale(1.1891 1)" x="-0.8" y="0" font-size="16.4">−5</text>
<text class="s" transform="translate(827.5 633.9) scale(1.1891 1)" x="-0.8" y="0" font-size="16.4">−4</text>
<text class="s" transform="translate(871.73 633.9) scale(1.1891 1)" x="-0.8" y="0" font-size="16.4">−3</text>
<text class="s" transform="translate(915.9 633.9) scale(1.1891 1)" x="-0.8" y="0" font-size="16.4">−2</text>
<text class="s" transform="translate(959.98 633.9) scale(1.1891 1)" x="-0.8" y="0" font-size="16.4">−1</text>
<text class="s" transform="translate(1009.58 633.9) scale(1.1891 1)" x="-0.64" y="0" font-size="16.4">0</text>
<text class="s" transform="translate(1054.14 633.9) scale(1.1891 1)" x="-1.25" y="0" font-size="16.4">1</text>
<text class="s" transform="translate(1011.47 823) scale(1.1038 1)" x="-1.28" y="0" font-size="16.9">1</text>
<text class="s" transform="translate(1003.3 841.3) scale(1.1038 1)" x="-0.66" y="0" font-size="16.9">0.8</text>
<text class="s" transform="translate(1003.3 859.6) scale(1.1038 1)" x="-0.66" y="0" font-size="16.9">0.6</text>
<text class="s" transform="translate(1003.17 877.9) scale(1.1038 1)" x="-0.66" y="0" font-size="16.9">0.4</text>
<text class="s" transform="translate(1003.3 896.2) scale(1.1038 1)" x="-0.66" y="0" font-size="16.9">0.3</text>
<text class="s" transform="translate(1003.37 914.5) scale(1.1038 1)" x="-0.66" y="0" font-size="16.9">0.2</text>
<text class="s" transform="translate(1003.35 932.8) scale(1.1038 1)" x="-0.66" y="0" font-size="16.9">0.1</text>
<text class="s" transform="translate(1011.03 951.1) scale(1.1038 1)" x="-0.66" y="0" font-size="16.9">0</text>
<text class="s" transform="translate(997.99 969.4) scale(1.1038 1)" x="-0.83" y="0" font-size="16.9">−0.1</text>
<text class="s" transform="translate(998.01 987.7) scale(1.1038 1)" x="-0.83" y="0" font-size="16.9">−0.2</text>
<text class="s" transform="translate(997.95 1006) scale(1.1038 1)" x="-0.83" y="0" font-size="16.9">−0.3</text>
<text class="s" transform="translate(997.82 1024.3) scale(1.1038 1)" x="-0.83" y="0" font-size="16.9">−0.4</text>
<text class="s" transform="translate(997.95 1042.6) scale(1.1038 1)" x="-0.83" y="0" font-size="16.9">−0.6</text>
<text class="s" transform="translate(997.95 1060.9) scale(1.1038 1)" x="-0.83" y="0" font-size="16.9">−0.8</text>
<text class="s" transform="translate(1005.77 1079.2) scale(1.1038 1)" x="-0.83" y="0" font-size="16.9">−1</text>
</g>
</svg></body></html>
